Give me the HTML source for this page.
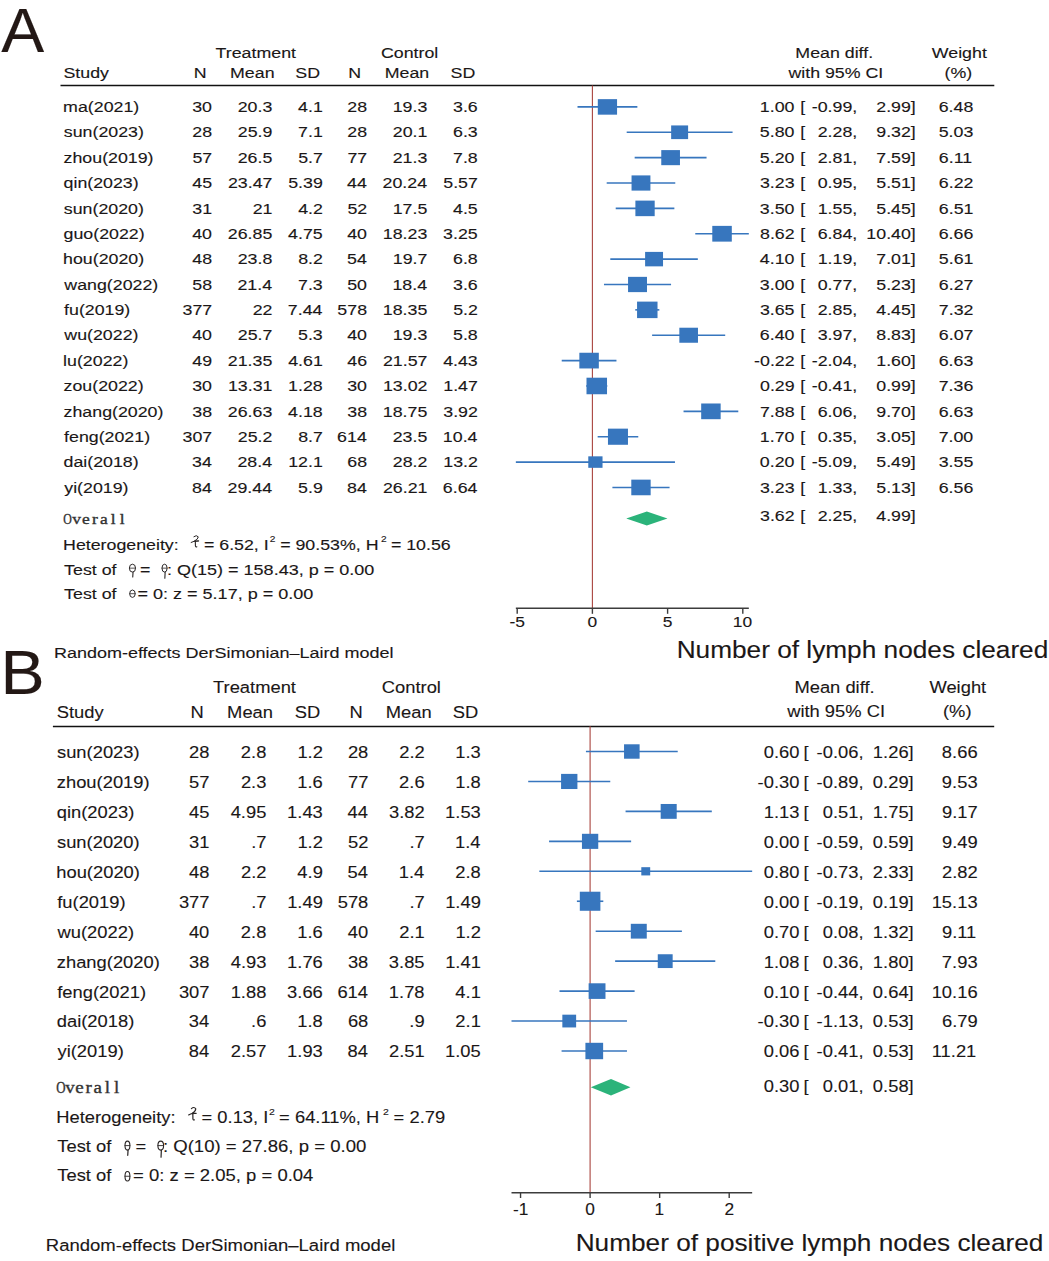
<!DOCTYPE html>
<html><head><meta charset="utf-8"><style>
html,body{margin:0;padding:0;background:#fff;width:1049px;height:1261px;overflow:hidden}
svg{display:block}

</style></head><body>
<svg width="1049" height="1261" viewBox="0 0 1049 1261">
<rect width="1049" height="1261" fill="#fff"/>
<text transform="translate(1.37 52.00) scale(1.0300 1)" font-family='"Liberation Sans", sans-serif' font-size="62.50" fill="#231815" stroke="#231815" stroke-width="0.12">A</text>
<text transform="translate(215.60 57.70) scale(1.2450 1)" font-family='"Liberation Sans", sans-serif' font-size="14.30" fill="#1b1717" stroke="#1b1717" stroke-width="0.12">Treatment</text>
<text transform="translate(381.00 57.70) scale(1.2450 1)" font-family='"Liberation Sans", sans-serif' font-size="14.30" fill="#1b1717" stroke="#1b1717" stroke-width="0.12">Control</text>
<text transform="translate(63.49 77.80) scale(1.2450 1)" font-family='"Liberation Sans", sans-serif' font-size="14.30" fill="#1b1717" stroke="#1b1717" stroke-width="0.12">Study</text>
<text transform="translate(193.74 77.80) scale(1.2450 1)" font-family='"Liberation Sans", sans-serif' font-size="14.30" fill="#1b1717" stroke="#1b1717" stroke-width="0.12">N</text>
<text transform="translate(230.04 77.80) scale(1.2450 1)" font-family='"Liberation Sans", sans-serif' font-size="14.30" fill="#1b1717" stroke="#1b1717" stroke-width="0.12">Mean</text>
<text transform="translate(295.29 77.80) scale(1.2450 1)" font-family='"Liberation Sans", sans-serif' font-size="14.30" fill="#1b1717" stroke="#1b1717" stroke-width="0.12">SD</text>
<text transform="translate(348.14 77.80) scale(1.2450 1)" font-family='"Liberation Sans", sans-serif' font-size="14.30" fill="#1b1717" stroke="#1b1717" stroke-width="0.12">N</text>
<text transform="translate(384.74 77.80) scale(1.2450 1)" font-family='"Liberation Sans", sans-serif' font-size="14.30" fill="#1b1717" stroke="#1b1717" stroke-width="0.12">Mean</text>
<text transform="translate(450.59 77.80) scale(1.2450 1)" font-family='"Liberation Sans", sans-serif' font-size="14.30" fill="#1b1717" stroke="#1b1717" stroke-width="0.12">SD</text>
<text transform="translate(795.34 57.80) scale(1.2450 1)" font-family='"Liberation Sans", sans-serif' font-size="14.30" fill="#1b1717" stroke="#1b1717" stroke-width="0.12">Mean diff.</text>
<text transform="translate(788.43 77.90) scale(1.2450 1)" font-family='"Liberation Sans", sans-serif' font-size="14.30" fill="#1b1717" stroke="#1b1717" stroke-width="0.12">with 95% CI</text>
<text transform="translate(931.82 57.80) scale(1.2450 1)" font-family='"Liberation Sans", sans-serif' font-size="14.30" fill="#1b1717" stroke="#1b1717" stroke-width="0.12">Weight</text>
<text transform="translate(944.60 77.90) scale(1.2450 1)" font-family='"Liberation Sans", sans-serif' font-size="14.30" fill="#1b1717" stroke="#1b1717" stroke-width="0.12">(%)</text>
<line x1="60.50" y1="85.50" x2="994.30" y2="85.50" stroke="#111" stroke-width="1.40"/>
<line x1="592.40" y1="85.50" x2="592.40" y2="608.20" stroke="#a9443f" stroke-width="1.10"/>
<text transform="translate(63.12 112.10) scale(1.2450 1)" font-family='"Liberation Sans", sans-serif' font-size="14.30" fill="#1b1717" stroke="#1b1717" stroke-width="0.12">ma(2021)</text>
<text transform="translate(192.19 112.10) scale(1.2450 1)" font-family='"Liberation Sans", sans-serif' font-size="14.30" fill="#1b1717" stroke="#1b1717" stroke-width="0.12">30</text>
<text transform="translate(237.73 112.10) scale(1.2450 1)" font-family='"Liberation Sans", sans-serif' font-size="14.30" fill="#1b1717" stroke="#1b1717" stroke-width="0.12">20.3</text>
<text transform="translate(298.12 112.10) scale(1.2450 1)" font-family='"Liberation Sans", sans-serif' font-size="14.30" fill="#1b1717" stroke="#1b1717" stroke-width="0.12">4.1</text>
<text transform="translate(347.27 112.10) scale(1.2450 1)" font-family='"Liberation Sans", sans-serif' font-size="14.30" fill="#1b1717" stroke="#1b1717" stroke-width="0.12">28</text>
<text transform="translate(392.73 112.10) scale(1.2450 1)" font-family='"Liberation Sans", sans-serif' font-size="14.30" fill="#1b1717" stroke="#1b1717" stroke-width="0.12">19.3</text>
<text transform="translate(453.03 112.10) scale(1.2450 1)" font-family='"Liberation Sans", sans-serif' font-size="14.30" fill="#1b1717" stroke="#1b1717" stroke-width="0.12">3.6</text>
<text transform="translate(759.84 112.10) scale(1.2450 1)" font-family='"Liberation Sans", sans-serif' font-size="14.30" fill="#1b1717" stroke="#1b1717" stroke-width="0.12">1.00</text>
<text transform="translate(800.23 112.10) scale(1.2450 1)" font-family='"Liberation Sans", sans-serif' font-size="14.30" fill="#1b1717" stroke="#1b1717" stroke-width="0.12">[</text>
<text transform="translate(811.77 112.10) scale(1.2450 1)" font-family='"Liberation Sans", sans-serif' font-size="14.30" fill="#1b1717" stroke="#1b1717" stroke-width="0.12">-0.99,</text>
<text transform="translate(876.27 112.10) scale(1.2450 1)" font-family='"Liberation Sans", sans-serif' font-size="14.30" fill="#1b1717" stroke="#1b1717" stroke-width="0.12">2.99]</text>
<text transform="translate(938.72 112.10) scale(1.2450 1)" font-family='"Liberation Sans", sans-serif' font-size="14.30" fill="#1b1717" stroke="#1b1717" stroke-width="0.12">6.48</text>
<line x1="577.51" y1="106.90" x2="637.37" y2="106.90" stroke="#3776be" stroke-width="1.60"/>
<rect x="597.81" y="99.14" width="19.25" height="15.53" fill="#3776be"/>
<text transform="translate(63.80 137.47) scale(1.2450 1)" font-family='"Liberation Sans", sans-serif' font-size="14.30" fill="#1b1717" stroke="#1b1717" stroke-width="0.12">sun(2023)</text>
<text transform="translate(192.27 137.47) scale(1.2450 1)" font-family='"Liberation Sans", sans-serif' font-size="14.30" fill="#1b1717" stroke="#1b1717" stroke-width="0.12">28</text>
<text transform="translate(237.79 137.47) scale(1.2450 1)" font-family='"Liberation Sans", sans-serif' font-size="14.30" fill="#1b1717" stroke="#1b1717" stroke-width="0.12">25.9</text>
<text transform="translate(298.12 137.47) scale(1.2450 1)" font-family='"Liberation Sans", sans-serif' font-size="14.30" fill="#1b1717" stroke="#1b1717" stroke-width="0.12">7.1</text>
<text transform="translate(347.27 137.47) scale(1.2450 1)" font-family='"Liberation Sans", sans-serif' font-size="14.30" fill="#1b1717" stroke="#1b1717" stroke-width="0.12">28</text>
<text transform="translate(392.82 137.47) scale(1.2450 1)" font-family='"Liberation Sans", sans-serif' font-size="14.30" fill="#1b1717" stroke="#1b1717" stroke-width="0.12">20.1</text>
<text transform="translate(453.03 137.47) scale(1.2450 1)" font-family='"Liberation Sans", sans-serif' font-size="14.30" fill="#1b1717" stroke="#1b1717" stroke-width="0.12">6.3</text>
<text transform="translate(759.84 137.47) scale(1.2450 1)" font-family='"Liberation Sans", sans-serif' font-size="14.30" fill="#1b1717" stroke="#1b1717" stroke-width="0.12">5.80</text>
<text transform="translate(800.23 137.47) scale(1.2450 1)" font-family='"Liberation Sans", sans-serif' font-size="14.30" fill="#1b1717" stroke="#1b1717" stroke-width="0.12">[</text>
<text transform="translate(817.70 137.47) scale(1.2450 1)" font-family='"Liberation Sans", sans-serif' font-size="14.30" fill="#1b1717" stroke="#1b1717" stroke-width="0.12">2.28,</text>
<text transform="translate(876.27 137.47) scale(1.2450 1)" font-family='"Liberation Sans", sans-serif' font-size="14.30" fill="#1b1717" stroke="#1b1717" stroke-width="0.12">9.32]</text>
<text transform="translate(938.73 137.47) scale(1.2450 1)" font-family='"Liberation Sans", sans-serif' font-size="14.30" fill="#1b1717" stroke="#1b1717" stroke-width="0.12">5.03</text>
<line x1="626.69" y1="132.27" x2="732.57" y2="132.27" stroke="#3776be" stroke-width="1.60"/>
<rect x="671.15" y="125.43" width="16.96" height="13.68" fill="#3776be"/>
<text transform="translate(63.58 162.84) scale(1.2450 1)" font-family='"Liberation Sans", sans-serif' font-size="14.30" fill="#1b1717" stroke="#1b1717" stroke-width="0.12">zhou(2019)</text>
<text transform="translate(192.39 162.84) scale(1.2450 1)" font-family='"Liberation Sans", sans-serif' font-size="14.30" fill="#1b1717" stroke="#1b1717" stroke-width="0.12">57</text>
<text transform="translate(237.70 162.84) scale(1.2450 1)" font-family='"Liberation Sans", sans-serif' font-size="14.30" fill="#1b1717" stroke="#1b1717" stroke-width="0.12">26.5</text>
<text transform="translate(298.15 162.84) scale(1.2450 1)" font-family='"Liberation Sans", sans-serif' font-size="14.30" fill="#1b1717" stroke="#1b1717" stroke-width="0.12">5.7</text>
<text transform="translate(347.39 162.84) scale(1.2450 1)" font-family='"Liberation Sans", sans-serif' font-size="14.30" fill="#1b1717" stroke="#1b1717" stroke-width="0.12">77</text>
<text transform="translate(392.73 162.84) scale(1.2450 1)" font-family='"Liberation Sans", sans-serif' font-size="14.30" fill="#1b1717" stroke="#1b1717" stroke-width="0.12">21.3</text>
<text transform="translate(453.02 162.84) scale(1.2450 1)" font-family='"Liberation Sans", sans-serif' font-size="14.30" fill="#1b1717" stroke="#1b1717" stroke-width="0.12">7.8</text>
<text transform="translate(759.84 162.84) scale(1.2450 1)" font-family='"Liberation Sans", sans-serif' font-size="14.30" fill="#1b1717" stroke="#1b1717" stroke-width="0.12">5.20</text>
<text transform="translate(800.23 162.84) scale(1.2450 1)" font-family='"Liberation Sans", sans-serif' font-size="14.30" fill="#1b1717" stroke="#1b1717" stroke-width="0.12">[</text>
<text transform="translate(817.70 162.84) scale(1.2450 1)" font-family='"Liberation Sans", sans-serif' font-size="14.30" fill="#1b1717" stroke="#1b1717" stroke-width="0.12">2.81,</text>
<text transform="translate(876.27 162.84) scale(1.2450 1)" font-family='"Liberation Sans", sans-serif' font-size="14.30" fill="#1b1717" stroke="#1b1717" stroke-width="0.12">7.59]</text>
<text transform="translate(938.82 162.84) scale(1.2450 1)" font-family='"Liberation Sans", sans-serif' font-size="14.30" fill="#1b1717" stroke="#1b1717" stroke-width="0.12">6.11</text>
<line x1="634.66" y1="157.64" x2="706.55" y2="157.64" stroke="#3776be" stroke-width="1.60"/>
<rect x="661.26" y="150.10" width="18.70" height="15.08" fill="#3776be"/>
<text transform="translate(63.55 188.21) scale(1.2450 1)" font-family='"Liberation Sans", sans-serif' font-size="14.30" fill="#1b1717" stroke="#1b1717" stroke-width="0.12">qin(2023)</text>
<text transform="translate(192.24 188.21) scale(1.2450 1)" font-family='"Liberation Sans", sans-serif' font-size="14.30" fill="#1b1717" stroke="#1b1717" stroke-width="0.12">45</text>
<text transform="translate(227.94 188.21) scale(1.2450 1)" font-family='"Liberation Sans", sans-serif' font-size="14.30" fill="#1b1717" stroke="#1b1717" stroke-width="0.12">23.47</text>
<text transform="translate(288.19 188.21) scale(1.2450 1)" font-family='"Liberation Sans", sans-serif' font-size="14.30" fill="#1b1717" stroke="#1b1717" stroke-width="0.12">5.39</text>
<text transform="translate(347.02 188.21) scale(1.2450 1)" font-family='"Liberation Sans", sans-serif' font-size="14.30" fill="#1b1717" stroke="#1b1717" stroke-width="0.12">44</text>
<text transform="translate(382.57 188.21) scale(1.2450 1)" font-family='"Liberation Sans", sans-serif' font-size="14.30" fill="#1b1717" stroke="#1b1717" stroke-width="0.12">20.24</text>
<text transform="translate(443.24 188.21) scale(1.2450 1)" font-family='"Liberation Sans", sans-serif' font-size="14.30" fill="#1b1717" stroke="#1b1717" stroke-width="0.12">5.57</text>
<text transform="translate(759.93 188.21) scale(1.2450 1)" font-family='"Liberation Sans", sans-serif' font-size="14.30" fill="#1b1717" stroke="#1b1717" stroke-width="0.12">3.23</text>
<text transform="translate(800.23 188.21) scale(1.2450 1)" font-family='"Liberation Sans", sans-serif' font-size="14.30" fill="#1b1717" stroke="#1b1717" stroke-width="0.12">[</text>
<text transform="translate(817.70 188.21) scale(1.2450 1)" font-family='"Liberation Sans", sans-serif' font-size="14.30" fill="#1b1717" stroke="#1b1717" stroke-width="0.12">0.95,</text>
<text transform="translate(876.27 188.21) scale(1.2450 1)" font-family='"Liberation Sans", sans-serif' font-size="14.30" fill="#1b1717" stroke="#1b1717" stroke-width="0.12">5.51]</text>
<text transform="translate(938.84 188.21) scale(1.2450 1)" font-family='"Liberation Sans", sans-serif' font-size="14.30" fill="#1b1717" stroke="#1b1717" stroke-width="0.12">6.22</text>
<line x1="606.69" y1="183.01" x2="675.27" y2="183.01" stroke="#3776be" stroke-width="1.60"/>
<rect x="631.55" y="175.40" width="18.86" height="15.21" fill="#3776be"/>
<text transform="translate(63.80 213.58) scale(1.2450 1)" font-family='"Liberation Sans", sans-serif' font-size="14.30" fill="#1b1717" stroke="#1b1717" stroke-width="0.12">sun(2020)</text>
<text transform="translate(192.37 213.58) scale(1.2450 1)" font-family='"Liberation Sans", sans-serif' font-size="14.30" fill="#1b1717" stroke="#1b1717" stroke-width="0.12">31</text>
<text transform="translate(252.67 213.58) scale(1.2450 1)" font-family='"Liberation Sans", sans-serif' font-size="14.30" fill="#1b1717" stroke="#1b1717" stroke-width="0.12">21</text>
<text transform="translate(298.15 213.58) scale(1.2450 1)" font-family='"Liberation Sans", sans-serif' font-size="14.30" fill="#1b1717" stroke="#1b1717" stroke-width="0.12">4.2</text>
<text transform="translate(347.39 213.58) scale(1.2450 1)" font-family='"Liberation Sans", sans-serif' font-size="14.30" fill="#1b1717" stroke="#1b1717" stroke-width="0.12">52</text>
<text transform="translate(392.70 213.58) scale(1.2450 1)" font-family='"Liberation Sans", sans-serif' font-size="14.30" fill="#1b1717" stroke="#1b1717" stroke-width="0.12">17.5</text>
<text transform="translate(453.00 213.58) scale(1.2450 1)" font-family='"Liberation Sans", sans-serif' font-size="14.30" fill="#1b1717" stroke="#1b1717" stroke-width="0.12">4.5</text>
<text transform="translate(759.84 213.58) scale(1.2450 1)" font-family='"Liberation Sans", sans-serif' font-size="14.30" fill="#1b1717" stroke="#1b1717" stroke-width="0.12">3.50</text>
<text transform="translate(800.23 213.58) scale(1.2450 1)" font-family='"Liberation Sans", sans-serif' font-size="14.30" fill="#1b1717" stroke="#1b1717" stroke-width="0.12">[</text>
<text transform="translate(817.70 213.58) scale(1.2450 1)" font-family='"Liberation Sans", sans-serif' font-size="14.30" fill="#1b1717" stroke="#1b1717" stroke-width="0.12">1.55,</text>
<text transform="translate(876.27 213.58) scale(1.2450 1)" font-family='"Liberation Sans", sans-serif' font-size="14.30" fill="#1b1717" stroke="#1b1717" stroke-width="0.12">5.45]</text>
<text transform="translate(938.82 213.58) scale(1.2450 1)" font-family='"Liberation Sans", sans-serif' font-size="14.30" fill="#1b1717" stroke="#1b1717" stroke-width="0.12">6.51</text>
<line x1="615.71" y1="208.38" x2="674.37" y2="208.38" stroke="#3776be" stroke-width="1.60"/>
<rect x="635.39" y="200.60" width="19.30" height="15.56" fill="#3776be"/>
<text transform="translate(63.55 238.95) scale(1.2450 1)" font-family='"Liberation Sans", sans-serif' font-size="14.30" fill="#1b1717" stroke="#1b1717" stroke-width="0.12">guo(2022)</text>
<text transform="translate(192.19 238.95) scale(1.2450 1)" font-family='"Liberation Sans", sans-serif' font-size="14.30" fill="#1b1717" stroke="#1b1717" stroke-width="0.12">40</text>
<text transform="translate(227.80 238.95) scale(1.2450 1)" font-family='"Liberation Sans", sans-serif' font-size="14.30" fill="#1b1717" stroke="#1b1717" stroke-width="0.12">26.85</text>
<text transform="translate(288.10 238.95) scale(1.2450 1)" font-family='"Liberation Sans", sans-serif' font-size="14.30" fill="#1b1717" stroke="#1b1717" stroke-width="0.12">4.75</text>
<text transform="translate(347.19 238.95) scale(1.2450 1)" font-family='"Liberation Sans", sans-serif' font-size="14.30" fill="#1b1717" stroke="#1b1717" stroke-width="0.12">40</text>
<text transform="translate(382.83 238.95) scale(1.2450 1)" font-family='"Liberation Sans", sans-serif' font-size="14.30" fill="#1b1717" stroke="#1b1717" stroke-width="0.12">18.23</text>
<text transform="translate(443.10 238.95) scale(1.2450 1)" font-family='"Liberation Sans", sans-serif' font-size="14.30" fill="#1b1717" stroke="#1b1717" stroke-width="0.12">3.25</text>
<text transform="translate(760.04 238.95) scale(1.2450 1)" font-family='"Liberation Sans", sans-serif' font-size="14.30" fill="#1b1717" stroke="#1b1717" stroke-width="0.12">8.62</text>
<text transform="translate(800.23 238.95) scale(1.2450 1)" font-family='"Liberation Sans", sans-serif' font-size="14.30" fill="#1b1717" stroke="#1b1717" stroke-width="0.12">[</text>
<text transform="translate(817.70 238.95) scale(1.2450 1)" font-family='"Liberation Sans", sans-serif' font-size="14.30" fill="#1b1717" stroke="#1b1717" stroke-width="0.12">6.84,</text>
<text transform="translate(866.37 238.95) scale(1.2450 1)" font-family='"Liberation Sans", sans-serif' font-size="14.30" fill="#1b1717" stroke="#1b1717" stroke-width="0.12">10.40]</text>
<text transform="translate(938.73 238.95) scale(1.2450 1)" font-family='"Liberation Sans", sans-serif' font-size="14.30" fill="#1b1717" stroke="#1b1717" stroke-width="0.12">6.66</text>
<line x1="695.27" y1="233.75" x2="748.82" y2="233.75" stroke="#3776be" stroke-width="1.60"/>
<rect x="712.28" y="225.88" width="19.52" height="15.74" fill="#3776be"/>
<text transform="translate(63.07 264.32) scale(1.2450 1)" font-family='"Liberation Sans", sans-serif' font-size="14.30" fill="#1b1717" stroke="#1b1717" stroke-width="0.12">hou(2020)</text>
<text transform="translate(192.27 264.32) scale(1.2450 1)" font-family='"Liberation Sans", sans-serif' font-size="14.30" fill="#1b1717" stroke="#1b1717" stroke-width="0.12">48</text>
<text transform="translate(237.72 264.32) scale(1.2450 1)" font-family='"Liberation Sans", sans-serif' font-size="14.30" fill="#1b1717" stroke="#1b1717" stroke-width="0.12">23.8</text>
<text transform="translate(298.15 264.32) scale(1.2450 1)" font-family='"Liberation Sans", sans-serif' font-size="14.30" fill="#1b1717" stroke="#1b1717" stroke-width="0.12">8.2</text>
<text transform="translate(347.02 264.32) scale(1.2450 1)" font-family='"Liberation Sans", sans-serif' font-size="14.30" fill="#1b1717" stroke="#1b1717" stroke-width="0.12">54</text>
<text transform="translate(392.84 264.32) scale(1.2450 1)" font-family='"Liberation Sans", sans-serif' font-size="14.30" fill="#1b1717" stroke="#1b1717" stroke-width="0.12">19.7</text>
<text transform="translate(453.02 264.32) scale(1.2450 1)" font-family='"Liberation Sans", sans-serif' font-size="14.30" fill="#1b1717" stroke="#1b1717" stroke-width="0.12">6.8</text>
<text transform="translate(759.84 264.32) scale(1.2450 1)" font-family='"Liberation Sans", sans-serif' font-size="14.30" fill="#1b1717" stroke="#1b1717" stroke-width="0.12">4.10</text>
<text transform="translate(800.23 264.32) scale(1.2450 1)" font-family='"Liberation Sans", sans-serif' font-size="14.30" fill="#1b1717" stroke="#1b1717" stroke-width="0.12">[</text>
<text transform="translate(817.70 264.32) scale(1.2450 1)" font-family='"Liberation Sans", sans-serif' font-size="14.30" fill="#1b1717" stroke="#1b1717" stroke-width="0.12">1.19,</text>
<text transform="translate(876.27 264.32) scale(1.2450 1)" font-family='"Liberation Sans", sans-serif' font-size="14.30" fill="#1b1717" stroke="#1b1717" stroke-width="0.12">7.01]</text>
<text transform="translate(938.82 264.32) scale(1.2450 1)" font-family='"Liberation Sans", sans-serif' font-size="14.30" fill="#1b1717" stroke="#1b1717" stroke-width="0.12">5.61</text>
<line x1="610.30" y1="259.12" x2="697.83" y2="259.12" stroke="#3776be" stroke-width="1.60"/>
<rect x="645.11" y="251.90" width="17.92" height="14.45" fill="#3776be"/>
<text transform="translate(64.33 289.69) scale(1.2450 1)" font-family='"Liberation Sans", sans-serif' font-size="14.30" fill="#1b1717" stroke="#1b1717" stroke-width="0.12">wang(2022)</text>
<text transform="translate(192.27 289.69) scale(1.2450 1)" font-family='"Liberation Sans", sans-serif' font-size="14.30" fill="#1b1717" stroke="#1b1717" stroke-width="0.12">58</text>
<text transform="translate(237.47 289.69) scale(1.2450 1)" font-family='"Liberation Sans", sans-serif' font-size="14.30" fill="#1b1717" stroke="#1b1717" stroke-width="0.12">21.4</text>
<text transform="translate(298.03 289.69) scale(1.2450 1)" font-family='"Liberation Sans", sans-serif' font-size="14.30" fill="#1b1717" stroke="#1b1717" stroke-width="0.12">7.3</text>
<text transform="translate(347.19 289.69) scale(1.2450 1)" font-family='"Liberation Sans", sans-serif' font-size="14.30" fill="#1b1717" stroke="#1b1717" stroke-width="0.12">50</text>
<text transform="translate(392.47 289.69) scale(1.2450 1)" font-family='"Liberation Sans", sans-serif' font-size="14.30" fill="#1b1717" stroke="#1b1717" stroke-width="0.12">18.4</text>
<text transform="translate(453.03 289.69) scale(1.2450 1)" font-family='"Liberation Sans", sans-serif' font-size="14.30" fill="#1b1717" stroke="#1b1717" stroke-width="0.12">3.6</text>
<text transform="translate(759.84 289.69) scale(1.2450 1)" font-family='"Liberation Sans", sans-serif' font-size="14.30" fill="#1b1717" stroke="#1b1717" stroke-width="0.12">3.00</text>
<text transform="translate(800.23 289.69) scale(1.2450 1)" font-family='"Liberation Sans", sans-serif' font-size="14.30" fill="#1b1717" stroke="#1b1717" stroke-width="0.12">[</text>
<text transform="translate(817.70 289.69) scale(1.2450 1)" font-family='"Liberation Sans", sans-serif' font-size="14.30" fill="#1b1717" stroke="#1b1717" stroke-width="0.12">0.77,</text>
<text transform="translate(876.27 289.69) scale(1.2450 1)" font-family='"Liberation Sans", sans-serif' font-size="14.30" fill="#1b1717" stroke="#1b1717" stroke-width="0.12">5.23]</text>
<text transform="translate(938.84 289.69) scale(1.2450 1)" font-family='"Liberation Sans", sans-serif' font-size="14.30" fill="#1b1717" stroke="#1b1717" stroke-width="0.12">6.27</text>
<line x1="603.98" y1="284.49" x2="671.06" y2="284.49" stroke="#3776be" stroke-width="1.60"/>
<rect x="628.05" y="276.85" width="18.94" height="15.27" fill="#3776be"/>
<text transform="translate(64.05 315.06) scale(1.2450 1)" font-family='"Liberation Sans", sans-serif' font-size="14.30" fill="#1b1717" stroke="#1b1717" stroke-width="0.12">fu(2019)</text>
<text transform="translate(182.49 315.06) scale(1.2450 1)" font-family='"Liberation Sans", sans-serif' font-size="14.30" fill="#1b1717" stroke="#1b1717" stroke-width="0.12">377</text>
<text transform="translate(252.69 315.06) scale(1.2450 1)" font-family='"Liberation Sans", sans-serif' font-size="14.30" fill="#1b1717" stroke="#1b1717" stroke-width="0.12">22</text>
<text transform="translate(287.87 315.06) scale(1.2450 1)" font-family='"Liberation Sans", sans-serif' font-size="14.30" fill="#1b1717" stroke="#1b1717" stroke-width="0.12">7.44</text>
<text transform="translate(337.37 315.06) scale(1.2450 1)" font-family='"Liberation Sans", sans-serif' font-size="14.30" fill="#1b1717" stroke="#1b1717" stroke-width="0.12">578</text>
<text transform="translate(382.80 315.06) scale(1.2450 1)" font-family='"Liberation Sans", sans-serif' font-size="14.30" fill="#1b1717" stroke="#1b1717" stroke-width="0.12">18.35</text>
<text transform="translate(453.15 315.06) scale(1.2450 1)" font-family='"Liberation Sans", sans-serif' font-size="14.30" fill="#1b1717" stroke="#1b1717" stroke-width="0.12">5.2</text>
<text transform="translate(759.90 315.06) scale(1.2450 1)" font-family='"Liberation Sans", sans-serif' font-size="14.30" fill="#1b1717" stroke="#1b1717" stroke-width="0.12">3.65</text>
<text transform="translate(800.23 315.06) scale(1.2450 1)" font-family='"Liberation Sans", sans-serif' font-size="14.30" fill="#1b1717" stroke="#1b1717" stroke-width="0.12">[</text>
<text transform="translate(817.70 315.06) scale(1.2450 1)" font-family='"Liberation Sans", sans-serif' font-size="14.30" fill="#1b1717" stroke="#1b1717" stroke-width="0.12">2.85,</text>
<text transform="translate(876.27 315.06) scale(1.2450 1)" font-family='"Liberation Sans", sans-serif' font-size="14.30" fill="#1b1717" stroke="#1b1717" stroke-width="0.12">4.45]</text>
<text transform="translate(938.84 315.06) scale(1.2450 1)" font-family='"Liberation Sans", sans-serif' font-size="14.30" fill="#1b1717" stroke="#1b1717" stroke-width="0.12">7.32</text>
<line x1="635.26" y1="309.86" x2="659.33" y2="309.86" stroke="#3776be" stroke-width="1.60"/>
<rect x="637.06" y="301.61" width="20.46" height="16.50" fill="#3776be"/>
<text transform="translate(64.33 340.43) scale(1.2450 1)" font-family='"Liberation Sans", sans-serif' font-size="14.30" fill="#1b1717" stroke="#1b1717" stroke-width="0.12">wu(2022)</text>
<text transform="translate(192.19 340.43) scale(1.2450 1)" font-family='"Liberation Sans", sans-serif' font-size="14.30" fill="#1b1717" stroke="#1b1717" stroke-width="0.12">40</text>
<text transform="translate(237.84 340.43) scale(1.2450 1)" font-family='"Liberation Sans", sans-serif' font-size="14.30" fill="#1b1717" stroke="#1b1717" stroke-width="0.12">25.7</text>
<text transform="translate(298.03 340.43) scale(1.2450 1)" font-family='"Liberation Sans", sans-serif' font-size="14.30" fill="#1b1717" stroke="#1b1717" stroke-width="0.12">5.3</text>
<text transform="translate(347.19 340.43) scale(1.2450 1)" font-family='"Liberation Sans", sans-serif' font-size="14.30" fill="#1b1717" stroke="#1b1717" stroke-width="0.12">40</text>
<text transform="translate(392.73 340.43) scale(1.2450 1)" font-family='"Liberation Sans", sans-serif' font-size="14.30" fill="#1b1717" stroke="#1b1717" stroke-width="0.12">19.3</text>
<text transform="translate(453.02 340.43) scale(1.2450 1)" font-family='"Liberation Sans", sans-serif' font-size="14.30" fill="#1b1717" stroke="#1b1717" stroke-width="0.12">5.8</text>
<text transform="translate(759.84 340.43) scale(1.2450 1)" font-family='"Liberation Sans", sans-serif' font-size="14.30" fill="#1b1717" stroke="#1b1717" stroke-width="0.12">6.40</text>
<text transform="translate(800.23 340.43) scale(1.2450 1)" font-family='"Liberation Sans", sans-serif' font-size="14.30" fill="#1b1717" stroke="#1b1717" stroke-width="0.12">[</text>
<text transform="translate(817.70 340.43) scale(1.2450 1)" font-family='"Liberation Sans", sans-serif' font-size="14.30" fill="#1b1717" stroke="#1b1717" stroke-width="0.12">3.97,</text>
<text transform="translate(876.27 340.43) scale(1.2450 1)" font-family='"Liberation Sans", sans-serif' font-size="14.30" fill="#1b1717" stroke="#1b1717" stroke-width="0.12">8.83]</text>
<text transform="translate(938.84 340.43) scale(1.2450 1)" font-family='"Liberation Sans", sans-serif' font-size="14.30" fill="#1b1717" stroke="#1b1717" stroke-width="0.12">6.07</text>
<line x1="652.11" y1="335.23" x2="725.20" y2="335.23" stroke="#3776be" stroke-width="1.60"/>
<rect x="679.34" y="327.72" width="18.64" height="15.03" fill="#3776be"/>
<text transform="translate(63.10 365.80) scale(1.2450 1)" font-family='"Liberation Sans", sans-serif' font-size="14.30" fill="#1b1717" stroke="#1b1717" stroke-width="0.12">lu(2022)</text>
<text transform="translate(192.34 365.80) scale(1.2450 1)" font-family='"Liberation Sans", sans-serif' font-size="14.30" fill="#1b1717" stroke="#1b1717" stroke-width="0.12">49</text>
<text transform="translate(227.80 365.80) scale(1.2450 1)" font-family='"Liberation Sans", sans-serif' font-size="14.30" fill="#1b1717" stroke="#1b1717" stroke-width="0.12">21.35</text>
<text transform="translate(288.22 365.80) scale(1.2450 1)" font-family='"Liberation Sans", sans-serif' font-size="14.30" fill="#1b1717" stroke="#1b1717" stroke-width="0.12">4.61</text>
<text transform="translate(347.28 365.80) scale(1.2450 1)" font-family='"Liberation Sans", sans-serif' font-size="14.30" fill="#1b1717" stroke="#1b1717" stroke-width="0.12">46</text>
<text transform="translate(382.94 365.80) scale(1.2450 1)" font-family='"Liberation Sans", sans-serif' font-size="14.30" fill="#1b1717" stroke="#1b1717" stroke-width="0.12">21.57</text>
<text transform="translate(443.13 365.80) scale(1.2450 1)" font-family='"Liberation Sans", sans-serif' font-size="14.30" fill="#1b1717" stroke="#1b1717" stroke-width="0.12">4.43</text>
<text transform="translate(754.12 365.80) scale(1.2450 1)" font-family='"Liberation Sans", sans-serif' font-size="14.30" fill="#1b1717" stroke="#1b1717" stroke-width="0.12">-0.22</text>
<text transform="translate(800.23 365.80) scale(1.2450 1)" font-family='"Liberation Sans", sans-serif' font-size="14.30" fill="#1b1717" stroke="#1b1717" stroke-width="0.12">[</text>
<text transform="translate(811.77 365.80) scale(1.2450 1)" font-family='"Liberation Sans", sans-serif' font-size="14.30" fill="#1b1717" stroke="#1b1717" stroke-width="0.12">-2.04,</text>
<text transform="translate(876.27 365.80) scale(1.2450 1)" font-family='"Liberation Sans", sans-serif' font-size="14.30" fill="#1b1717" stroke="#1b1717" stroke-width="0.12">1.60]</text>
<text transform="translate(938.73 365.80) scale(1.2450 1)" font-family='"Liberation Sans", sans-serif' font-size="14.30" fill="#1b1717" stroke="#1b1717" stroke-width="0.12">6.63</text>
<line x1="561.72" y1="360.60" x2="616.46" y2="360.60" stroke="#3776be" stroke-width="1.60"/>
<rect x="579.35" y="352.75" width="19.48" height="15.71" fill="#3776be"/>
<text transform="translate(63.58 391.17) scale(1.2450 1)" font-family='"Liberation Sans", sans-serif' font-size="14.30" fill="#1b1717" stroke="#1b1717" stroke-width="0.12">zou(2022)</text>
<text transform="translate(192.19 391.17) scale(1.2450 1)" font-family='"Liberation Sans", sans-serif' font-size="14.30" fill="#1b1717" stroke="#1b1717" stroke-width="0.12">30</text>
<text transform="translate(227.92 391.17) scale(1.2450 1)" font-family='"Liberation Sans", sans-serif' font-size="14.30" fill="#1b1717" stroke="#1b1717" stroke-width="0.12">13.31</text>
<text transform="translate(288.12 391.17) scale(1.2450 1)" font-family='"Liberation Sans", sans-serif' font-size="14.30" fill="#1b1717" stroke="#1b1717" stroke-width="0.12">1.28</text>
<text transform="translate(347.19 391.17) scale(1.2450 1)" font-family='"Liberation Sans", sans-serif' font-size="14.30" fill="#1b1717" stroke="#1b1717" stroke-width="0.12">30</text>
<text transform="translate(382.94 391.17) scale(1.2450 1)" font-family='"Liberation Sans", sans-serif' font-size="14.30" fill="#1b1717" stroke="#1b1717" stroke-width="0.12">13.02</text>
<text transform="translate(443.24 391.17) scale(1.2450 1)" font-family='"Liberation Sans", sans-serif' font-size="14.30" fill="#1b1717" stroke="#1b1717" stroke-width="0.12">1.47</text>
<text transform="translate(759.99 391.17) scale(1.2450 1)" font-family='"Liberation Sans", sans-serif' font-size="14.30" fill="#1b1717" stroke="#1b1717" stroke-width="0.12">0.29</text>
<text transform="translate(800.23 391.17) scale(1.2450 1)" font-family='"Liberation Sans", sans-serif' font-size="14.30" fill="#1b1717" stroke="#1b1717" stroke-width="0.12">[</text>
<text transform="translate(811.77 391.17) scale(1.2450 1)" font-family='"Liberation Sans", sans-serif' font-size="14.30" fill="#1b1717" stroke="#1b1717" stroke-width="0.12">-0.41,</text>
<text transform="translate(876.27 391.17) scale(1.2450 1)" font-family='"Liberation Sans", sans-serif' font-size="14.30" fill="#1b1717" stroke="#1b1717" stroke-width="0.12">0.99]</text>
<text transform="translate(938.73 391.17) scale(1.2450 1)" font-family='"Liberation Sans", sans-serif' font-size="14.30" fill="#1b1717" stroke="#1b1717" stroke-width="0.12">7.36</text>
<line x1="586.23" y1="385.97" x2="607.29" y2="385.97" stroke="#3776be" stroke-width="1.60"/>
<rect x="586.50" y="377.70" width="20.52" height="16.55" fill="#3776be"/>
<text transform="translate(63.58 416.54) scale(1.2450 1)" font-family='"Liberation Sans", sans-serif' font-size="14.30" fill="#1b1717" stroke="#1b1717" stroke-width="0.12">zhang(2020)</text>
<text transform="translate(192.27 416.54) scale(1.2450 1)" font-family='"Liberation Sans", sans-serif' font-size="14.30" fill="#1b1717" stroke="#1b1717" stroke-width="0.12">38</text>
<text transform="translate(227.83 416.54) scale(1.2450 1)" font-family='"Liberation Sans", sans-serif' font-size="14.30" fill="#1b1717" stroke="#1b1717" stroke-width="0.12">26.63</text>
<text transform="translate(288.12 416.54) scale(1.2450 1)" font-family='"Liberation Sans", sans-serif' font-size="14.30" fill="#1b1717" stroke="#1b1717" stroke-width="0.12">4.18</text>
<text transform="translate(347.27 416.54) scale(1.2450 1)" font-family='"Liberation Sans", sans-serif' font-size="14.30" fill="#1b1717" stroke="#1b1717" stroke-width="0.12">38</text>
<text transform="translate(382.80 416.54) scale(1.2450 1)" font-family='"Liberation Sans", sans-serif' font-size="14.30" fill="#1b1717" stroke="#1b1717" stroke-width="0.12">18.75</text>
<text transform="translate(443.24 416.54) scale(1.2450 1)" font-family='"Liberation Sans", sans-serif' font-size="14.30" fill="#1b1717" stroke="#1b1717" stroke-width="0.12">3.92</text>
<text transform="translate(759.92 416.54) scale(1.2450 1)" font-family='"Liberation Sans", sans-serif' font-size="14.30" fill="#1b1717" stroke="#1b1717" stroke-width="0.12">7.88</text>
<text transform="translate(800.23 416.54) scale(1.2450 1)" font-family='"Liberation Sans", sans-serif' font-size="14.30" fill="#1b1717" stroke="#1b1717" stroke-width="0.12">[</text>
<text transform="translate(817.70 416.54) scale(1.2450 1)" font-family='"Liberation Sans", sans-serif' font-size="14.30" fill="#1b1717" stroke="#1b1717" stroke-width="0.12">6.06,</text>
<text transform="translate(876.27 416.54) scale(1.2450 1)" font-family='"Liberation Sans", sans-serif' font-size="14.30" fill="#1b1717" stroke="#1b1717" stroke-width="0.12">9.70]</text>
<text transform="translate(938.73 416.54) scale(1.2450 1)" font-family='"Liberation Sans", sans-serif' font-size="14.30" fill="#1b1717" stroke="#1b1717" stroke-width="0.12">6.63</text>
<line x1="683.54" y1="411.34" x2="738.29" y2="411.34" stroke="#3776be" stroke-width="1.60"/>
<rect x="701.18" y="403.49" width="19.48" height="15.71" fill="#3776be"/>
<text transform="translate(64.05 441.91) scale(1.2450 1)" font-family='"Liberation Sans", sans-serif' font-size="14.30" fill="#1b1717" stroke="#1b1717" stroke-width="0.12">feng(2021)</text>
<text transform="translate(182.49 441.91) scale(1.2450 1)" font-family='"Liberation Sans", sans-serif' font-size="14.30" fill="#1b1717" stroke="#1b1717" stroke-width="0.12">307</text>
<text transform="translate(237.84 441.91) scale(1.2450 1)" font-family='"Liberation Sans", sans-serif' font-size="14.30" fill="#1b1717" stroke="#1b1717" stroke-width="0.12">25.2</text>
<text transform="translate(298.15 441.91) scale(1.2450 1)" font-family='"Liberation Sans", sans-serif' font-size="14.30" fill="#1b1717" stroke="#1b1717" stroke-width="0.12">8.7</text>
<text transform="translate(337.12 441.91) scale(1.2450 1)" font-family='"Liberation Sans", sans-serif' font-size="14.30" fill="#1b1717" stroke="#1b1717" stroke-width="0.12">614</text>
<text transform="translate(392.70 441.91) scale(1.2450 1)" font-family='"Liberation Sans", sans-serif' font-size="14.30" fill="#1b1717" stroke="#1b1717" stroke-width="0.12">23.5</text>
<text transform="translate(442.87 441.91) scale(1.2450 1)" font-family='"Liberation Sans", sans-serif' font-size="14.30" fill="#1b1717" stroke="#1b1717" stroke-width="0.12">10.4</text>
<text transform="translate(759.84 441.91) scale(1.2450 1)" font-family='"Liberation Sans", sans-serif' font-size="14.30" fill="#1b1717" stroke="#1b1717" stroke-width="0.12">1.70</text>
<text transform="translate(800.23 441.91) scale(1.2450 1)" font-family='"Liberation Sans", sans-serif' font-size="14.30" fill="#1b1717" stroke="#1b1717" stroke-width="0.12">[</text>
<text transform="translate(817.70 441.91) scale(1.2450 1)" font-family='"Liberation Sans", sans-serif' font-size="14.30" fill="#1b1717" stroke="#1b1717" stroke-width="0.12">0.35,</text>
<text transform="translate(876.27 441.91) scale(1.2450 1)" font-family='"Liberation Sans", sans-serif' font-size="14.30" fill="#1b1717" stroke="#1b1717" stroke-width="0.12">3.05]</text>
<text transform="translate(938.64 441.91) scale(1.2450 1)" font-family='"Liberation Sans", sans-serif' font-size="14.30" fill="#1b1717" stroke="#1b1717" stroke-width="0.12">7.00</text>
<line x1="597.66" y1="436.71" x2="638.27" y2="436.71" stroke="#3776be" stroke-width="1.60"/>
<rect x="607.96" y="428.64" width="20.01" height="16.14" fill="#3776be"/>
<text transform="translate(63.55 467.28) scale(1.2450 1)" font-family='"Liberation Sans", sans-serif' font-size="14.30" fill="#1b1717" stroke="#1b1717" stroke-width="0.12">dai(2018)</text>
<text transform="translate(192.02 467.28) scale(1.2450 1)" font-family='"Liberation Sans", sans-serif' font-size="14.30" fill="#1b1717" stroke="#1b1717" stroke-width="0.12">34</text>
<text transform="translate(237.47 467.28) scale(1.2450 1)" font-family='"Liberation Sans", sans-serif' font-size="14.30" fill="#1b1717" stroke="#1b1717" stroke-width="0.12">28.4</text>
<text transform="translate(288.22 467.28) scale(1.2450 1)" font-family='"Liberation Sans", sans-serif' font-size="14.30" fill="#1b1717" stroke="#1b1717" stroke-width="0.12">12.1</text>
<text transform="translate(347.27 467.28) scale(1.2450 1)" font-family='"Liberation Sans", sans-serif' font-size="14.30" fill="#1b1717" stroke="#1b1717" stroke-width="0.12">68</text>
<text transform="translate(392.84 467.28) scale(1.2450 1)" font-family='"Liberation Sans", sans-serif' font-size="14.30" fill="#1b1717" stroke="#1b1717" stroke-width="0.12">28.2</text>
<text transform="translate(443.24 467.28) scale(1.2450 1)" font-family='"Liberation Sans", sans-serif' font-size="14.30" fill="#1b1717" stroke="#1b1717" stroke-width="0.12">13.2</text>
<text transform="translate(759.84 467.28) scale(1.2450 1)" font-family='"Liberation Sans", sans-serif' font-size="14.30" fill="#1b1717" stroke="#1b1717" stroke-width="0.12">0.20</text>
<text transform="translate(800.23 467.28) scale(1.2450 1)" font-family='"Liberation Sans", sans-serif' font-size="14.30" fill="#1b1717" stroke="#1b1717" stroke-width="0.12">[</text>
<text transform="translate(811.77 467.28) scale(1.2450 1)" font-family='"Liberation Sans", sans-serif' font-size="14.30" fill="#1b1717" stroke="#1b1717" stroke-width="0.12">-5.09,</text>
<text transform="translate(876.27 467.28) scale(1.2450 1)" font-family='"Liberation Sans", sans-serif' font-size="14.30" fill="#1b1717" stroke="#1b1717" stroke-width="0.12">5.49]</text>
<text transform="translate(938.70 467.28) scale(1.2450 1)" font-family='"Liberation Sans", sans-serif' font-size="14.30" fill="#1b1717" stroke="#1b1717" stroke-width="0.12">3.55</text>
<line x1="515.85" y1="462.08" x2="674.97" y2="462.08" stroke="#3776be" stroke-width="1.60"/>
<rect x="588.28" y="456.33" width="14.25" height="11.49" fill="#3776be"/>
<text transform="translate(64.26 492.65) scale(1.2450 1)" font-family='"Liberation Sans", sans-serif' font-size="14.30" fill="#1b1717" stroke="#1b1717" stroke-width="0.12">yi(2019)</text>
<text transform="translate(192.02 492.65) scale(1.2450 1)" font-family='"Liberation Sans", sans-serif' font-size="14.30" fill="#1b1717" stroke="#1b1717" stroke-width="0.12">84</text>
<text transform="translate(227.57 492.65) scale(1.2450 1)" font-family='"Liberation Sans", sans-serif' font-size="14.30" fill="#1b1717" stroke="#1b1717" stroke-width="0.12">29.44</text>
<text transform="translate(298.09 492.65) scale(1.2450 1)" font-family='"Liberation Sans", sans-serif' font-size="14.30" fill="#1b1717" stroke="#1b1717" stroke-width="0.12">5.9</text>
<text transform="translate(347.02 492.65) scale(1.2450 1)" font-family='"Liberation Sans", sans-serif' font-size="14.30" fill="#1b1717" stroke="#1b1717" stroke-width="0.12">84</text>
<text transform="translate(382.92 492.65) scale(1.2450 1)" font-family='"Liberation Sans", sans-serif' font-size="14.30" fill="#1b1717" stroke="#1b1717" stroke-width="0.12">26.21</text>
<text transform="translate(442.87 492.65) scale(1.2450 1)" font-family='"Liberation Sans", sans-serif' font-size="14.30" fill="#1b1717" stroke="#1b1717" stroke-width="0.12">6.64</text>
<text transform="translate(759.93 492.65) scale(1.2450 1)" font-family='"Liberation Sans", sans-serif' font-size="14.30" fill="#1b1717" stroke="#1b1717" stroke-width="0.12">3.23</text>
<text transform="translate(800.23 492.65) scale(1.2450 1)" font-family='"Liberation Sans", sans-serif' font-size="14.30" fill="#1b1717" stroke="#1b1717" stroke-width="0.12">[</text>
<text transform="translate(817.70 492.65) scale(1.2450 1)" font-family='"Liberation Sans", sans-serif' font-size="14.30" fill="#1b1717" stroke="#1b1717" stroke-width="0.12">1.33,</text>
<text transform="translate(876.27 492.65) scale(1.2450 1)" font-family='"Liberation Sans", sans-serif' font-size="14.30" fill="#1b1717" stroke="#1b1717" stroke-width="0.12">5.13]</text>
<text transform="translate(938.73 492.65) scale(1.2450 1)" font-family='"Liberation Sans", sans-serif' font-size="14.30" fill="#1b1717" stroke="#1b1717" stroke-width="0.12">6.56</text>
<line x1="612.40" y1="487.45" x2="669.56" y2="487.45" stroke="#3776be" stroke-width="1.60"/>
<rect x="631.29" y="479.64" width="19.37" height="15.62" fill="#3776be"/>
<text transform="translate(63.32 523.50) scale(0.7800 1)" font-family='"Liberation Serif", serif' font-size="15.20" fill="#333" stroke="#333" stroke-width="0.35">O</text>
<text transform="translate(72.33 523.50) scale(1.1500 1)" font-family='"Liberation Serif", serif' font-size="15.20" fill="#333" stroke="#333" stroke-width="0.35">v</text>
<text transform="translate(81.88 523.50) scale(1.1500 1)" font-family='"Liberation Serif", serif' font-size="15.20" fill="#333" stroke="#333" stroke-width="0.35">e</text>
<text transform="translate(91.89 523.50) scale(1.1500 1)" font-family='"Liberation Serif", serif' font-size="15.20" fill="#333" stroke="#333" stroke-width="0.35">r</text>
<text transform="translate(99.93 523.50) scale(1.1500 1)" font-family='"Liberation Serif", serif' font-size="15.20" fill="#333" stroke="#333" stroke-width="0.35">a</text>
<text transform="translate(110.67 523.50) scale(1.1500 1)" font-family='"Liberation Serif", serif' font-size="15.20" fill="#333" stroke="#333" stroke-width="0.35">l</text>
<text transform="translate(119.77 523.50) scale(1.1500 1)" font-family='"Liberation Serif", serif' font-size="15.20" fill="#333" stroke="#333" stroke-width="0.35">l</text>
<text transform="translate(760.04 521.00) scale(1.2450 1)" font-family='"Liberation Sans", sans-serif' font-size="14.30" fill="#1b1717" stroke="#1b1717" stroke-width="0.12">3.62</text>
<text transform="translate(800.23 521.00) scale(1.2450 1)" font-family='"Liberation Sans", sans-serif' font-size="14.30" fill="#1b1717" stroke="#1b1717" stroke-width="0.12">[</text>
<text transform="translate(817.70 521.00) scale(1.2450 1)" font-family='"Liberation Sans", sans-serif' font-size="14.30" fill="#1b1717" stroke="#1b1717" stroke-width="0.12">2.25,</text>
<text transform="translate(876.27 521.00) scale(1.2450 1)" font-family='"Liberation Sans", sans-serif' font-size="14.30" fill="#1b1717" stroke="#1b1717" stroke-width="0.12">4.99]</text>
<polygon points="626.24,518.60 646.84,511.60 667.45,518.60 646.84,525.60" fill="#2bb37a"/>
<text transform="translate(63.04 549.80) scale(1.2450 1)" font-family='"Liberation Sans", sans-serif' font-size="14.30" fill="#1b1717" stroke="#1b1717" stroke-width="0.12">Heterogeneity:</text>
<path d="M193.88 536.67 Q196.55 534.51 198.29 536.87 Q198.09 539.33 194.19 541.20 L198.71 540.91" fill="none" stroke="#2a2626" stroke-width="1.00" stroke-linecap="round"/>
<path d="M191.11 542.38 Q193.47 540.81 198.29 541.00" fill="none" stroke="#2a2626" stroke-width="1.00" stroke-linecap="round"/>
<path d="M195.32 541.00 L195.42 545.92 Q195.73 547.30 196.86 546.81" fill="none" stroke="#2a2626" stroke-width="1.10" stroke-linecap="round"/>
<text transform="translate(203.93 549.80) scale(1.2450 1)" font-family='"Liberation Sans", sans-serif' font-size="14.30" fill="#1b1717" stroke="#1b1717" stroke-width="0.12">= 6.52, I</text>
<text transform="translate(269.79 542.00) scale(1.2000 1)" font-family='"Liberation Sans", sans-serif' font-size="8.50" fill="#1b1717" stroke="#1b1717" stroke-width="0.12">2</text>
<text transform="translate(280.13 549.80) scale(1.2450 1)" font-family='"Liberation Sans", sans-serif' font-size="14.30" fill="#1b1717" stroke="#1b1717" stroke-width="0.12">= 90.53%, H</text>
<text transform="translate(381.09 542.00) scale(1.2000 1)" font-family='"Liberation Sans", sans-serif' font-size="8.50" fill="#1b1717" stroke="#1b1717" stroke-width="0.12">2</text>
<text transform="translate(390.89 549.80) scale(1.2450 1)" font-family='"Liberation Sans", sans-serif' font-size="14.30" fill="#1b1717" stroke="#1b1717" stroke-width="0.12">= 10.56</text>
<text transform="translate(64.10 575.00) scale(1.2450 1)" font-family='"Liberation Sans", sans-serif' font-size="14.30" fill="#1b1717" stroke="#1b1717" stroke-width="0.12">Test of</text>
<ellipse cx="132.45" cy="568.15" rx="3.05" ry="3.95" fill="none" stroke="#2a2626" stroke-width="1.00"/>
<path d="M129.40 568.15L135.50 568.15" fill="none" stroke="#2a2626" stroke-width="0.80" stroke-linecap="round"/>
<path d="M133.05 572.10L132.75 577.00" fill="none" stroke="#2a2626" stroke-width="1.10" stroke-linecap="round"/>
<text transform="translate(140.03 575.00) scale(1.2450 1)" font-family='"Liberation Sans", sans-serif' font-size="14.30" fill="#1b1717" stroke="#1b1717" stroke-width="0.12">=</text>
<ellipse cx="164.55" cy="568.15" rx="2.55" ry="3.95" fill="none" stroke="#2a2626" stroke-width="1.00"/>
<path d="M162.00 568.15L167.10 568.15" fill="none" stroke="#2a2626" stroke-width="0.80" stroke-linecap="round"/>
<path d="M165.15 572.10L164.85 578.30" fill="none" stroke="#2a2626" stroke-width="1.10" stroke-linecap="round"/>
<text transform="translate(166.95 575.00) scale(1.2606 1)" font-family='"Liberation Sans", sans-serif' font-size="14.30" fill="#1b1717" stroke="#1b1717" stroke-width="0.12">: Q(15) = 158.43, p = 0.00</text>
<text transform="translate(64.10 599.10) scale(1.2450 1)" font-family='"Liberation Sans", sans-serif' font-size="14.30" fill="#1b1717" stroke="#1b1717" stroke-width="0.12">Test of</text>
<ellipse cx="132.45" cy="593.70" rx="2.75" ry="3.70" fill="none" stroke="#2a2626" stroke-width="1.00"/>
<path d="M129.70 593.70L135.20 593.70" fill="none" stroke="#2a2626" stroke-width="0.80" stroke-linecap="round"/>
<text transform="translate(137.42 599.10) scale(1.2620 1)" font-family='"Liberation Sans", sans-serif' font-size="14.30" fill="#1b1717" stroke="#1b1717" stroke-width="0.12">= 0: z = 5.17, p = 0.00</text>
<line x1="515.85" y1="608.20" x2="748.82" y2="608.20" stroke="#3c3c3c" stroke-width="1.40"/>
<line x1="517.20" y1="608.20" x2="517.20" y2="613.80" stroke="#3c3c3c" stroke-width="1.40"/>
<text transform="translate(509.44 626.50) scale(1.2000 1)" font-family='"Liberation Sans", sans-serif' font-size="14.50" fill="#1b1717" stroke="#1b1717" stroke-width="0.12">-5</text>
<line x1="592.40" y1="608.20" x2="592.40" y2="613.80" stroke="#3c3c3c" stroke-width="1.40"/>
<text transform="translate(587.56 626.50) scale(1.2000 1)" font-family='"Liberation Sans", sans-serif' font-size="14.50" fill="#1b1717" stroke="#1b1717" stroke-width="0.12">0</text>
<line x1="667.60" y1="608.20" x2="667.60" y2="613.80" stroke="#3c3c3c" stroke-width="1.40"/>
<text transform="translate(662.78 626.50) scale(1.2000 1)" font-family='"Liberation Sans", sans-serif' font-size="14.50" fill="#1b1717" stroke="#1b1717" stroke-width="0.12">5</text>
<line x1="742.80" y1="608.20" x2="742.80" y2="613.80" stroke="#3c3c3c" stroke-width="1.40"/>
<text transform="translate(732.80 626.50) scale(1.2000 1)" font-family='"Liberation Sans", sans-serif' font-size="14.50" fill="#1b1717" stroke="#1b1717" stroke-width="0.12">10</text>
<text transform="translate(54.02 657.50) scale(1.2000 1)" font-family='"Liberation Sans", sans-serif' font-size="15.00" fill="#1b1717" stroke="#1b1717" stroke-width="0.12">Random-effects DerSimonian–Laird model</text>
<text transform="translate(676.65 657.60) scale(1.0934 1)" font-family='"Liberation Sans", sans-serif' font-size="24.00" fill="#1b1717" stroke="#1b1717" stroke-width="0.12">Number of lymph nodes cleared</text>
<text transform="translate(0.47 693.50) scale(1.0600 1)" font-family='"Liberation Sans", sans-serif' font-size="62.50" fill="#231815" stroke="#231815" stroke-width="0.12">B</text>
<text transform="translate(212.99 693.40) scale(1.0800 1)" font-family='"Liberation Sans", sans-serif' font-size="17.00" fill="#1b1717" stroke="#1b1717" stroke-width="0.12">Treatment</text>
<text transform="translate(381.77 693.40) scale(1.0800 1)" font-family='"Liberation Sans", sans-serif' font-size="17.00" fill="#1b1717" stroke="#1b1717" stroke-width="0.12">Control</text>
<text transform="translate(56.67 717.60) scale(1.0800 1)" font-family='"Liberation Sans", sans-serif' font-size="17.00" fill="#1b1717" stroke="#1b1717" stroke-width="0.12">Study</text>
<text transform="translate(190.59 717.60) scale(1.0800 1)" font-family='"Liberation Sans", sans-serif' font-size="17.00" fill="#1b1717" stroke="#1b1717" stroke-width="0.12">N</text>
<text transform="translate(227.09 717.60) scale(1.0800 1)" font-family='"Liberation Sans", sans-serif' font-size="17.00" fill="#1b1717" stroke="#1b1717" stroke-width="0.12">Mean</text>
<text transform="translate(294.67 717.60) scale(1.0800 1)" font-family='"Liberation Sans", sans-serif' font-size="17.00" fill="#1b1717" stroke="#1b1717" stroke-width="0.12">SD</text>
<text transform="translate(349.59 717.60) scale(1.0800 1)" font-family='"Liberation Sans", sans-serif' font-size="17.00" fill="#1b1717" stroke="#1b1717" stroke-width="0.12">N</text>
<text transform="translate(385.69 717.60) scale(1.0800 1)" font-family='"Liberation Sans", sans-serif' font-size="17.00" fill="#1b1717" stroke="#1b1717" stroke-width="0.12">Mean</text>
<text transform="translate(452.77 717.60) scale(1.0800 1)" font-family='"Liberation Sans", sans-serif' font-size="17.00" fill="#1b1717" stroke="#1b1717" stroke-width="0.12">SD</text>
<text transform="translate(794.39 693.10) scale(1.0800 1)" font-family='"Liberation Sans", sans-serif' font-size="17.00" fill="#1b1717" stroke="#1b1717" stroke-width="0.12">Mean diff.</text>
<text transform="translate(787.13 716.70) scale(1.0800 1)" font-family='"Liberation Sans", sans-serif' font-size="17.00" fill="#1b1717" stroke="#1b1717" stroke-width="0.12">with 95% CI</text>
<text transform="translate(929.42 693.10) scale(1.0800 1)" font-family='"Liberation Sans", sans-serif' font-size="17.00" fill="#1b1717" stroke="#1b1717" stroke-width="0.12">Weight</text>
<text transform="translate(942.96 716.70) scale(1.0800 1)" font-family='"Liberation Sans", sans-serif' font-size="17.00" fill="#1b1717" stroke="#1b1717" stroke-width="0.12">(%)</text>
<line x1="52.90" y1="726.50" x2="994.20" y2="726.50" stroke="#111" stroke-width="1.40"/>
<line x1="590.10" y1="726.30" x2="590.10" y2="1192.80" stroke="#a9443f" stroke-width="1.10"/>
<text transform="translate(56.99 757.90) scale(1.0800 1)" font-family='"Liberation Sans", sans-serif' font-size="17.00" fill="#1b1717" stroke="#1b1717" stroke-width="0.12">sun(2023)</text>
<text transform="translate(188.98 757.90) scale(1.0800 1)" font-family='"Liberation Sans", sans-serif' font-size="17.00" fill="#1b1717" stroke="#1b1717" stroke-width="0.12">28</text>
<text transform="translate(240.87 757.90) scale(1.0800 1)" font-family='"Liberation Sans", sans-serif' font-size="17.00" fill="#1b1717" stroke="#1b1717" stroke-width="0.12">2.8</text>
<text transform="translate(297.40 757.90) scale(1.0800 1)" font-family='"Liberation Sans", sans-serif' font-size="17.00" fill="#1b1717" stroke="#1b1717" stroke-width="0.12">1.2</text>
<text transform="translate(347.88 757.90) scale(1.0800 1)" font-family='"Liberation Sans", sans-serif' font-size="17.00" fill="#1b1717" stroke="#1b1717" stroke-width="0.12">28</text>
<text transform="translate(399.20 757.90) scale(1.0800 1)" font-family='"Liberation Sans", sans-serif' font-size="17.00" fill="#1b1717" stroke="#1b1717" stroke-width="0.12">2.2</text>
<text transform="translate(455.28 757.90) scale(1.0800 1)" font-family='"Liberation Sans", sans-serif' font-size="17.00" fill="#1b1717" stroke="#1b1717" stroke-width="0.12">1.3</text>
<text transform="translate(763.68 757.90) scale(1.0800 1)" font-family='"Liberation Sans", sans-serif' font-size="17.00" fill="#1b1717" stroke="#1b1717" stroke-width="0.12">0.60</text>
<text transform="translate(803.59 757.90) scale(1.0800 1)" font-family='"Liberation Sans", sans-serif' font-size="17.00" fill="#1b1717" stroke="#1b1717" stroke-width="0.12">[</text>
<text transform="translate(816.60 757.90) scale(1.0800 1)" font-family='"Liberation Sans", sans-serif' font-size="17.00" fill="#1b1717" stroke="#1b1717" stroke-width="0.12">-0.06,</text>
<text transform="translate(872.87 757.90) scale(1.0800 1)" font-family='"Liberation Sans", sans-serif' font-size="17.00" fill="#1b1717" stroke="#1b1717" stroke-width="0.12">1.26]</text>
<text transform="translate(941.87 757.90) scale(1.0800 1)" font-family='"Liberation Sans", sans-serif' font-size="17.00" fill="#1b1717" stroke="#1b1717" stroke-width="0.12">8.66</text>
<line x1="585.93" y1="751.50" x2="677.73" y2="751.50" stroke="#3776be" stroke-width="1.60"/>
<rect x="624.04" y="744.29" width="15.57" height="14.42" fill="#3776be"/>
<text transform="translate(56.76 787.85) scale(1.0800 1)" font-family='"Liberation Sans", sans-serif' font-size="17.00" fill="#1b1717" stroke="#1b1717" stroke-width="0.12">zhou(2019)</text>
<text transform="translate(189.10 787.85) scale(1.0800 1)" font-family='"Liberation Sans", sans-serif' font-size="17.00" fill="#1b1717" stroke="#1b1717" stroke-width="0.12">57</text>
<text transform="translate(240.88 787.85) scale(1.0800 1)" font-family='"Liberation Sans", sans-serif' font-size="17.00" fill="#1b1717" stroke="#1b1717" stroke-width="0.12">2.3</text>
<text transform="translate(297.28 787.85) scale(1.0800 1)" font-family='"Liberation Sans", sans-serif' font-size="17.00" fill="#1b1717" stroke="#1b1717" stroke-width="0.12">1.6</text>
<text transform="translate(348.00 787.85) scale(1.0800 1)" font-family='"Liberation Sans", sans-serif' font-size="17.00" fill="#1b1717" stroke="#1b1717" stroke-width="0.12">77</text>
<text transform="translate(399.08 787.85) scale(1.0800 1)" font-family='"Liberation Sans", sans-serif' font-size="17.00" fill="#1b1717" stroke="#1b1717" stroke-width="0.12">2.6</text>
<text transform="translate(455.27 787.85) scale(1.0800 1)" font-family='"Liberation Sans", sans-serif' font-size="17.00" fill="#1b1717" stroke="#1b1717" stroke-width="0.12">1.8</text>
<text transform="translate(757.57 787.85) scale(1.0800 1)" font-family='"Liberation Sans", sans-serif' font-size="17.00" fill="#1b1717" stroke="#1b1717" stroke-width="0.12">-0.30</text>
<text transform="translate(803.59 787.85) scale(1.0800 1)" font-family='"Liberation Sans", sans-serif' font-size="17.00" fill="#1b1717" stroke="#1b1717" stroke-width="0.12">[</text>
<text transform="translate(816.60 787.85) scale(1.0800 1)" font-family='"Liberation Sans", sans-serif' font-size="17.00" fill="#1b1717" stroke="#1b1717" stroke-width="0.12">-0.89,</text>
<text transform="translate(872.87 787.85) scale(1.0800 1)" font-family='"Liberation Sans", sans-serif' font-size="17.00" fill="#1b1717" stroke="#1b1717" stroke-width="0.12">0.29]</text>
<text transform="translate(941.87 787.85) scale(1.0800 1)" font-family='"Liberation Sans", sans-serif' font-size="17.00" fill="#1b1717" stroke="#1b1717" stroke-width="0.12">9.53</text>
<line x1="528.20" y1="781.45" x2="610.27" y2="781.45" stroke="#3776be" stroke-width="1.60"/>
<rect x="561.07" y="773.89" width="16.34" height="15.13" fill="#3776be"/>
<text transform="translate(56.73 817.80) scale(1.0800 1)" font-family='"Liberation Sans", sans-serif' font-size="17.00" fill="#1b1717" stroke="#1b1717" stroke-width="0.12">qin(2023)</text>
<text transform="translate(188.95 817.80) scale(1.0800 1)" font-family='"Liberation Sans", sans-serif' font-size="17.00" fill="#1b1717" stroke="#1b1717" stroke-width="0.12">45</text>
<text transform="translate(230.64 817.80) scale(1.0800 1)" font-family='"Liberation Sans", sans-serif' font-size="17.00" fill="#1b1717" stroke="#1b1717" stroke-width="0.12">4.95</text>
<text transform="translate(287.07 817.80) scale(1.0800 1)" font-family='"Liberation Sans", sans-serif' font-size="17.00" fill="#1b1717" stroke="#1b1717" stroke-width="0.12">1.43</text>
<text transform="translate(347.62 817.80) scale(1.0800 1)" font-family='"Liberation Sans", sans-serif' font-size="17.00" fill="#1b1717" stroke="#1b1717" stroke-width="0.12">44</text>
<text transform="translate(388.99 817.80) scale(1.0800 1)" font-family='"Liberation Sans", sans-serif' font-size="17.00" fill="#1b1717" stroke="#1b1717" stroke-width="0.12">3.82</text>
<text transform="translate(445.07 817.80) scale(1.0800 1)" font-family='"Liberation Sans", sans-serif' font-size="17.00" fill="#1b1717" stroke="#1b1717" stroke-width="0.12">1.53</text>
<text transform="translate(763.77 817.80) scale(1.0800 1)" font-family='"Liberation Sans", sans-serif' font-size="17.00" fill="#1b1717" stroke="#1b1717" stroke-width="0.12">1.13</text>
<text transform="translate(803.59 817.80) scale(1.0800 1)" font-family='"Liberation Sans", sans-serif' font-size="17.00" fill="#1b1717" stroke="#1b1717" stroke-width="0.12">[</text>
<text transform="translate(822.71 817.80) scale(1.0800 1)" font-family='"Liberation Sans", sans-serif' font-size="17.00" fill="#1b1717" stroke="#1b1717" stroke-width="0.12">0.51,</text>
<text transform="translate(872.87 817.80) scale(1.0800 1)" font-family='"Liberation Sans", sans-serif' font-size="17.00" fill="#1b1717" stroke="#1b1717" stroke-width="0.12">1.75]</text>
<text transform="translate(941.99 817.80) scale(1.0800 1)" font-family='"Liberation Sans", sans-serif' font-size="17.00" fill="#1b1717" stroke="#1b1717" stroke-width="0.12">9.17</text>
<line x1="625.57" y1="811.40" x2="711.81" y2="811.40" stroke="#3776be" stroke-width="1.60"/>
<rect x="660.68" y="803.98" width="16.03" height="14.84" fill="#3776be"/>
<text transform="translate(56.99 847.75) scale(1.0800 1)" font-family='"Liberation Sans", sans-serif' font-size="17.00" fill="#1b1717" stroke="#1b1717" stroke-width="0.12">sun(2020)</text>
<text transform="translate(189.07 847.75) scale(1.0800 1)" font-family='"Liberation Sans", sans-serif' font-size="17.00" fill="#1b1717" stroke="#1b1717" stroke-width="0.12">31</text>
<text transform="translate(251.21 847.75) scale(1.0800 1)" font-family='"Liberation Sans", sans-serif' font-size="17.00" fill="#1b1717" stroke="#1b1717" stroke-width="0.12">.7</text>
<text transform="translate(297.40 847.75) scale(1.0800 1)" font-family='"Liberation Sans", sans-serif' font-size="17.00" fill="#1b1717" stroke="#1b1717" stroke-width="0.12">1.2</text>
<text transform="translate(348.00 847.75) scale(1.0800 1)" font-family='"Liberation Sans", sans-serif' font-size="17.00" fill="#1b1717" stroke="#1b1717" stroke-width="0.12">52</text>
<text transform="translate(409.41 847.75) scale(1.0800 1)" font-family='"Liberation Sans", sans-serif' font-size="17.00" fill="#1b1717" stroke="#1b1717" stroke-width="0.12">.7</text>
<text transform="translate(455.01 847.75) scale(1.0800 1)" font-family='"Liberation Sans", sans-serif' font-size="17.00" fill="#1b1717" stroke="#1b1717" stroke-width="0.12">1.4</text>
<text transform="translate(763.68 847.75) scale(1.0800 1)" font-family='"Liberation Sans", sans-serif' font-size="17.00" fill="#1b1717" stroke="#1b1717" stroke-width="0.12">0.00</text>
<text transform="translate(803.59 847.75) scale(1.0800 1)" font-family='"Liberation Sans", sans-serif' font-size="17.00" fill="#1b1717" stroke="#1b1717" stroke-width="0.12">[</text>
<text transform="translate(816.60 847.75) scale(1.0800 1)" font-family='"Liberation Sans", sans-serif' font-size="17.00" fill="#1b1717" stroke="#1b1717" stroke-width="0.12">-0.59,</text>
<text transform="translate(872.87 847.75) scale(1.0800 1)" font-family='"Liberation Sans", sans-serif' font-size="17.00" fill="#1b1717" stroke="#1b1717" stroke-width="0.12">0.59]</text>
<text transform="translate(941.94 847.75) scale(1.0800 1)" font-family='"Liberation Sans", sans-serif' font-size="17.00" fill="#1b1717" stroke="#1b1717" stroke-width="0.12">9.49</text>
<line x1="549.07" y1="841.35" x2="631.13" y2="841.35" stroke="#3776be" stroke-width="1.60"/>
<rect x="581.95" y="833.80" width="16.30" height="15.09" fill="#3776be"/>
<text transform="translate(56.23 877.70) scale(1.0800 1)" font-family='"Liberation Sans", sans-serif' font-size="17.00" fill="#1b1717" stroke="#1b1717" stroke-width="0.12">hou(2020)</text>
<text transform="translate(188.98 877.70) scale(1.0800 1)" font-family='"Liberation Sans", sans-serif' font-size="17.00" fill="#1b1717" stroke="#1b1717" stroke-width="0.12">48</text>
<text transform="translate(241.00 877.70) scale(1.0800 1)" font-family='"Liberation Sans", sans-serif' font-size="17.00" fill="#1b1717" stroke="#1b1717" stroke-width="0.12">2.2</text>
<text transform="translate(297.35 877.70) scale(1.0800 1)" font-family='"Liberation Sans", sans-serif' font-size="17.00" fill="#1b1717" stroke="#1b1717" stroke-width="0.12">4.9</text>
<text transform="translate(347.62 877.70) scale(1.0800 1)" font-family='"Liberation Sans", sans-serif' font-size="17.00" fill="#1b1717" stroke="#1b1717" stroke-width="0.12">54</text>
<text transform="translate(398.81 877.70) scale(1.0800 1)" font-family='"Liberation Sans", sans-serif' font-size="17.00" fill="#1b1717" stroke="#1b1717" stroke-width="0.12">1.4</text>
<text transform="translate(455.27 877.70) scale(1.0800 1)" font-family='"Liberation Sans", sans-serif' font-size="17.00" fill="#1b1717" stroke="#1b1717" stroke-width="0.12">2.8</text>
<text transform="translate(763.68 877.70) scale(1.0800 1)" font-family='"Liberation Sans", sans-serif' font-size="17.00" fill="#1b1717" stroke="#1b1717" stroke-width="0.12">0.80</text>
<text transform="translate(803.59 877.70) scale(1.0800 1)" font-family='"Liberation Sans", sans-serif' font-size="17.00" fill="#1b1717" stroke="#1b1717" stroke-width="0.12">[</text>
<text transform="translate(816.60 877.70) scale(1.0800 1)" font-family='"Liberation Sans", sans-serif' font-size="17.00" fill="#1b1717" stroke="#1b1717" stroke-width="0.12">-0.73,</text>
<text transform="translate(872.87 877.70) scale(1.0800 1)" font-family='"Liberation Sans", sans-serif' font-size="17.00" fill="#1b1717" stroke="#1b1717" stroke-width="0.12">2.33]</text>
<text transform="translate(941.99 877.70) scale(1.0800 1)" font-family='"Liberation Sans", sans-serif' font-size="17.00" fill="#1b1717" stroke="#1b1717" stroke-width="0.12">2.82</text>
<line x1="539.33" y1="871.30" x2="752.15" y2="871.30" stroke="#3776be" stroke-width="1.60"/>
<rect x="641.30" y="867.19" width="8.89" height="8.23" fill="#3776be"/>
<text transform="translate(57.24 907.65) scale(1.0800 1)" font-family='"Liberation Sans", sans-serif' font-size="17.00" fill="#1b1717" stroke="#1b1717" stroke-width="0.12">fu(2019)</text>
<text transform="translate(178.89 907.65) scale(1.0800 1)" font-family='"Liberation Sans", sans-serif' font-size="17.00" fill="#1b1717" stroke="#1b1717" stroke-width="0.12">377</text>
<text transform="translate(251.21 907.65) scale(1.0800 1)" font-family='"Liberation Sans", sans-serif' font-size="17.00" fill="#1b1717" stroke="#1b1717" stroke-width="0.12">.7</text>
<text transform="translate(287.14 907.65) scale(1.0800 1)" font-family='"Liberation Sans", sans-serif' font-size="17.00" fill="#1b1717" stroke="#1b1717" stroke-width="0.12">1.49</text>
<text transform="translate(337.67 907.65) scale(1.0800 1)" font-family='"Liberation Sans", sans-serif' font-size="17.00" fill="#1b1717" stroke="#1b1717" stroke-width="0.12">578</text>
<text transform="translate(409.41 907.65) scale(1.0800 1)" font-family='"Liberation Sans", sans-serif' font-size="17.00" fill="#1b1717" stroke="#1b1717" stroke-width="0.12">.7</text>
<text transform="translate(445.14 907.65) scale(1.0800 1)" font-family='"Liberation Sans", sans-serif' font-size="17.00" fill="#1b1717" stroke="#1b1717" stroke-width="0.12">1.49</text>
<text transform="translate(763.68 907.65) scale(1.0800 1)" font-family='"Liberation Sans", sans-serif' font-size="17.00" fill="#1b1717" stroke="#1b1717" stroke-width="0.12">0.00</text>
<text transform="translate(803.59 907.65) scale(1.0800 1)" font-family='"Liberation Sans", sans-serif' font-size="17.00" fill="#1b1717" stroke="#1b1717" stroke-width="0.12">[</text>
<text transform="translate(816.60 907.65) scale(1.0800 1)" font-family='"Liberation Sans", sans-serif' font-size="17.00" fill="#1b1717" stroke="#1b1717" stroke-width="0.12">-0.19,</text>
<text transform="translate(872.87 907.65) scale(1.0800 1)" font-family='"Liberation Sans", sans-serif' font-size="17.00" fill="#1b1717" stroke="#1b1717" stroke-width="0.12">0.19]</text>
<text transform="translate(931.66 907.65) scale(1.0800 1)" font-family='"Liberation Sans", sans-serif' font-size="17.00" fill="#1b1717" stroke="#1b1717" stroke-width="0.12">15.13</text>
<line x1="576.89" y1="901.25" x2="603.31" y2="901.25" stroke="#3776be" stroke-width="1.60"/>
<rect x="579.81" y="891.72" width="20.58" height="19.06" fill="#3776be"/>
<text transform="translate(57.53 937.60) scale(1.0800 1)" font-family='"Liberation Sans", sans-serif' font-size="17.00" fill="#1b1717" stroke="#1b1717" stroke-width="0.12">wu(2022)</text>
<text transform="translate(188.90 937.60) scale(1.0800 1)" font-family='"Liberation Sans", sans-serif' font-size="17.00" fill="#1b1717" stroke="#1b1717" stroke-width="0.12">40</text>
<text transform="translate(240.87 937.60) scale(1.0800 1)" font-family='"Liberation Sans", sans-serif' font-size="17.00" fill="#1b1717" stroke="#1b1717" stroke-width="0.12">2.8</text>
<text transform="translate(297.28 937.60) scale(1.0800 1)" font-family='"Liberation Sans", sans-serif' font-size="17.00" fill="#1b1717" stroke="#1b1717" stroke-width="0.12">1.6</text>
<text transform="translate(347.80 937.60) scale(1.0800 1)" font-family='"Liberation Sans", sans-serif' font-size="17.00" fill="#1b1717" stroke="#1b1717" stroke-width="0.12">40</text>
<text transform="translate(399.17 937.60) scale(1.0800 1)" font-family='"Liberation Sans", sans-serif' font-size="17.00" fill="#1b1717" stroke="#1b1717" stroke-width="0.12">2.1</text>
<text transform="translate(455.40 937.60) scale(1.0800 1)" font-family='"Liberation Sans", sans-serif' font-size="17.00" fill="#1b1717" stroke="#1b1717" stroke-width="0.12">1.2</text>
<text transform="translate(763.68 937.60) scale(1.0800 1)" font-family='"Liberation Sans", sans-serif' font-size="17.00" fill="#1b1717" stroke="#1b1717" stroke-width="0.12">0.70</text>
<text transform="translate(803.59 937.60) scale(1.0800 1)" font-family='"Liberation Sans", sans-serif' font-size="17.00" fill="#1b1717" stroke="#1b1717" stroke-width="0.12">[</text>
<text transform="translate(822.71 937.60) scale(1.0800 1)" font-family='"Liberation Sans", sans-serif' font-size="17.00" fill="#1b1717" stroke="#1b1717" stroke-width="0.12">0.08,</text>
<text transform="translate(872.87 937.60) scale(1.0800 1)" font-family='"Liberation Sans", sans-serif' font-size="17.00" fill="#1b1717" stroke="#1b1717" stroke-width="0.12">1.32]</text>
<text transform="translate(941.96 937.60) scale(1.0800 1)" font-family='"Liberation Sans", sans-serif' font-size="17.00" fill="#1b1717" stroke="#1b1717" stroke-width="0.12">9.11</text>
<line x1="595.66" y1="931.20" x2="681.91" y2="931.20" stroke="#3776be" stroke-width="1.60"/>
<rect x="630.80" y="923.81" width="15.97" height="14.79" fill="#3776be"/>
<text transform="translate(56.76 967.55) scale(1.0800 1)" font-family='"Liberation Sans", sans-serif' font-size="17.00" fill="#1b1717" stroke="#1b1717" stroke-width="0.12">zhang(2020)</text>
<text transform="translate(188.98 967.55) scale(1.0800 1)" font-family='"Liberation Sans", sans-serif' font-size="17.00" fill="#1b1717" stroke="#1b1717" stroke-width="0.12">38</text>
<text transform="translate(230.67 967.55) scale(1.0800 1)" font-family='"Liberation Sans", sans-serif' font-size="17.00" fill="#1b1717" stroke="#1b1717" stroke-width="0.12">4.93</text>
<text transform="translate(287.07 967.55) scale(1.0800 1)" font-family='"Liberation Sans", sans-serif' font-size="17.00" fill="#1b1717" stroke="#1b1717" stroke-width="0.12">1.76</text>
<text transform="translate(347.88 967.55) scale(1.0800 1)" font-family='"Liberation Sans", sans-serif' font-size="17.00" fill="#1b1717" stroke="#1b1717" stroke-width="0.12">38</text>
<text transform="translate(388.84 967.55) scale(1.0800 1)" font-family='"Liberation Sans", sans-serif' font-size="17.00" fill="#1b1717" stroke="#1b1717" stroke-width="0.12">3.85</text>
<text transform="translate(445.16 967.55) scale(1.0800 1)" font-family='"Liberation Sans", sans-serif' font-size="17.00" fill="#1b1717" stroke="#1b1717" stroke-width="0.12">1.41</text>
<text transform="translate(763.76 967.55) scale(1.0800 1)" font-family='"Liberation Sans", sans-serif' font-size="17.00" fill="#1b1717" stroke="#1b1717" stroke-width="0.12">1.08</text>
<text transform="translate(803.59 967.55) scale(1.0800 1)" font-family='"Liberation Sans", sans-serif' font-size="17.00" fill="#1b1717" stroke="#1b1717" stroke-width="0.12">[</text>
<text transform="translate(822.71 967.55) scale(1.0800 1)" font-family='"Liberation Sans", sans-serif' font-size="17.00" fill="#1b1717" stroke="#1b1717" stroke-width="0.12">0.36,</text>
<text transform="translate(872.87 967.55) scale(1.0800 1)" font-family='"Liberation Sans", sans-serif' font-size="17.00" fill="#1b1717" stroke="#1b1717" stroke-width="0.12">1.80]</text>
<text transform="translate(941.87 967.55) scale(1.0800 1)" font-family='"Liberation Sans", sans-serif' font-size="17.00" fill="#1b1717" stroke="#1b1717" stroke-width="0.12">7.93</text>
<line x1="615.14" y1="961.15" x2="715.29" y2="961.15" stroke="#3776be" stroke-width="1.60"/>
<rect x="657.76" y="954.25" width="14.90" height="13.80" fill="#3776be"/>
<text transform="translate(57.24 997.50) scale(1.0800 1)" font-family='"Liberation Sans", sans-serif' font-size="17.00" fill="#1b1717" stroke="#1b1717" stroke-width="0.12">feng(2021)</text>
<text transform="translate(178.89 997.50) scale(1.0800 1)" font-family='"Liberation Sans", sans-serif' font-size="17.00" fill="#1b1717" stroke="#1b1717" stroke-width="0.12">307</text>
<text transform="translate(230.66 997.50) scale(1.0800 1)" font-family='"Liberation Sans", sans-serif' font-size="17.00" fill="#1b1717" stroke="#1b1717" stroke-width="0.12">1.88</text>
<text transform="translate(287.07 997.50) scale(1.0800 1)" font-family='"Liberation Sans", sans-serif' font-size="17.00" fill="#1b1717" stroke="#1b1717" stroke-width="0.12">3.66</text>
<text transform="translate(337.41 997.50) scale(1.0800 1)" font-family='"Liberation Sans", sans-serif' font-size="17.00" fill="#1b1717" stroke="#1b1717" stroke-width="0.12">614</text>
<text transform="translate(388.86 997.50) scale(1.0800 1)" font-family='"Liberation Sans", sans-serif' font-size="17.00" fill="#1b1717" stroke="#1b1717" stroke-width="0.12">1.78</text>
<text transform="translate(455.37 997.50) scale(1.0800 1)" font-family='"Liberation Sans", sans-serif' font-size="17.00" fill="#1b1717" stroke="#1b1717" stroke-width="0.12">4.1</text>
<text transform="translate(763.68 997.50) scale(1.0800 1)" font-family='"Liberation Sans", sans-serif' font-size="17.00" fill="#1b1717" stroke="#1b1717" stroke-width="0.12">0.10</text>
<text transform="translate(803.59 997.50) scale(1.0800 1)" font-family='"Liberation Sans", sans-serif' font-size="17.00" fill="#1b1717" stroke="#1b1717" stroke-width="0.12">[</text>
<text transform="translate(816.60 997.50) scale(1.0800 1)" font-family='"Liberation Sans", sans-serif' font-size="17.00" fill="#1b1717" stroke="#1b1717" stroke-width="0.12">-0.44,</text>
<text transform="translate(872.87 997.50) scale(1.0800 1)" font-family='"Liberation Sans", sans-serif' font-size="17.00" fill="#1b1717" stroke="#1b1717" stroke-width="0.12">0.64]</text>
<text transform="translate(931.66 997.50) scale(1.0800 1)" font-family='"Liberation Sans", sans-serif' font-size="17.00" fill="#1b1717" stroke="#1b1717" stroke-width="0.12">10.16</text>
<line x1="559.50" y1="991.10" x2="634.61" y2="991.10" stroke="#3776be" stroke-width="1.60"/>
<rect x="588.62" y="983.29" width="16.87" height="15.62" fill="#3776be"/>
<text transform="translate(56.73 1027.45) scale(1.0800 1)" font-family='"Liberation Sans", sans-serif' font-size="17.00" fill="#1b1717" stroke="#1b1717" stroke-width="0.12">dai(2018)</text>
<text transform="translate(188.72 1027.45) scale(1.0800 1)" font-family='"Liberation Sans", sans-serif' font-size="17.00" fill="#1b1717" stroke="#1b1717" stroke-width="0.12">34</text>
<text transform="translate(251.09 1027.45) scale(1.0800 1)" font-family='"Liberation Sans", sans-serif' font-size="17.00" fill="#1b1717" stroke="#1b1717" stroke-width="0.12">.6</text>
<text transform="translate(297.27 1027.45) scale(1.0800 1)" font-family='"Liberation Sans", sans-serif' font-size="17.00" fill="#1b1717" stroke="#1b1717" stroke-width="0.12">1.8</text>
<text transform="translate(347.88 1027.45) scale(1.0800 1)" font-family='"Liberation Sans", sans-serif' font-size="17.00" fill="#1b1717" stroke="#1b1717" stroke-width="0.12">68</text>
<text transform="translate(409.36 1027.45) scale(1.0800 1)" font-family='"Liberation Sans", sans-serif' font-size="17.00" fill="#1b1717" stroke="#1b1717" stroke-width="0.12">.9</text>
<text transform="translate(455.37 1027.45) scale(1.0800 1)" font-family='"Liberation Sans", sans-serif' font-size="17.00" fill="#1b1717" stroke="#1b1717" stroke-width="0.12">2.1</text>
<text transform="translate(757.57 1027.45) scale(1.0800 1)" font-family='"Liberation Sans", sans-serif' font-size="17.00" fill="#1b1717" stroke="#1b1717" stroke-width="0.12">-0.30</text>
<text transform="translate(803.59 1027.45) scale(1.0800 1)" font-family='"Liberation Sans", sans-serif' font-size="17.00" fill="#1b1717" stroke="#1b1717" stroke-width="0.12">[</text>
<text transform="translate(816.60 1027.45) scale(1.0800 1)" font-family='"Liberation Sans", sans-serif' font-size="17.00" fill="#1b1717" stroke="#1b1717" stroke-width="0.12">-1.13,</text>
<text transform="translate(872.87 1027.45) scale(1.0800 1)" font-family='"Liberation Sans", sans-serif' font-size="17.00" fill="#1b1717" stroke="#1b1717" stroke-width="0.12">0.53]</text>
<text transform="translate(941.94 1027.45) scale(1.0800 1)" font-family='"Liberation Sans", sans-serif' font-size="17.00" fill="#1b1717" stroke="#1b1717" stroke-width="0.12">6.79</text>
<line x1="511.51" y1="1021.05" x2="626.96" y2="1021.05" stroke="#3776be" stroke-width="1.60"/>
<rect x="562.34" y="1014.67" width="13.79" height="12.77" fill="#3776be"/>
<text transform="translate(57.46 1057.40) scale(1.0800 1)" font-family='"Liberation Sans", sans-serif' font-size="17.00" fill="#1b1717" stroke="#1b1717" stroke-width="0.12">yi(2019)</text>
<text transform="translate(188.72 1057.40) scale(1.0800 1)" font-family='"Liberation Sans", sans-serif' font-size="17.00" fill="#1b1717" stroke="#1b1717" stroke-width="0.12">84</text>
<text transform="translate(230.79 1057.40) scale(1.0800 1)" font-family='"Liberation Sans", sans-serif' font-size="17.00" fill="#1b1717" stroke="#1b1717" stroke-width="0.12">2.57</text>
<text transform="translate(287.07 1057.40) scale(1.0800 1)" font-family='"Liberation Sans", sans-serif' font-size="17.00" fill="#1b1717" stroke="#1b1717" stroke-width="0.12">1.93</text>
<text transform="translate(347.62 1057.40) scale(1.0800 1)" font-family='"Liberation Sans", sans-serif' font-size="17.00" fill="#1b1717" stroke="#1b1717" stroke-width="0.12">84</text>
<text transform="translate(388.96 1057.40) scale(1.0800 1)" font-family='"Liberation Sans", sans-serif' font-size="17.00" fill="#1b1717" stroke="#1b1717" stroke-width="0.12">2.51</text>
<text transform="translate(445.04 1057.40) scale(1.0800 1)" font-family='"Liberation Sans", sans-serif' font-size="17.00" fill="#1b1717" stroke="#1b1717" stroke-width="0.12">1.05</text>
<text transform="translate(763.77 1057.40) scale(1.0800 1)" font-family='"Liberation Sans", sans-serif' font-size="17.00" fill="#1b1717" stroke="#1b1717" stroke-width="0.12">0.06</text>
<text transform="translate(803.59 1057.40) scale(1.0800 1)" font-family='"Liberation Sans", sans-serif' font-size="17.00" fill="#1b1717" stroke="#1b1717" stroke-width="0.12">[</text>
<text transform="translate(816.60 1057.40) scale(1.0800 1)" font-family='"Liberation Sans", sans-serif' font-size="17.00" fill="#1b1717" stroke="#1b1717" stroke-width="0.12">-0.41,</text>
<text transform="translate(872.87 1057.40) scale(1.0800 1)" font-family='"Liberation Sans", sans-serif' font-size="17.00" fill="#1b1717" stroke="#1b1717" stroke-width="0.12">0.53]</text>
<text transform="translate(931.75 1057.40) scale(1.0800 1)" font-family='"Liberation Sans", sans-serif' font-size="17.00" fill="#1b1717" stroke="#1b1717" stroke-width="0.12">11.21</text>
<line x1="561.58" y1="1051.00" x2="626.96" y2="1051.00" stroke="#3776be" stroke-width="1.60"/>
<rect x="585.41" y="1042.80" width="17.72" height="16.41" fill="#3776be"/>
<text transform="translate(56.15 1093.00) scale(0.7800 1)" font-family='"Liberation Serif", serif' font-size="16.50" fill="#333" stroke="#333" stroke-width="0.35">O</text>
<text transform="translate(65.36 1093.00) scale(1.1500 1)" font-family='"Liberation Serif", serif' font-size="16.50" fill="#333" stroke="#333" stroke-width="0.35">v</text>
<text transform="translate(75.15 1093.00) scale(1.1500 1)" font-family='"Liberation Serif", serif' font-size="16.50" fill="#333" stroke="#333" stroke-width="0.35">e</text>
<text transform="translate(85.43 1093.00) scale(1.1500 1)" font-family='"Liberation Serif", serif' font-size="16.50" fill="#333" stroke="#333" stroke-width="0.35">r</text>
<text transform="translate(93.59 1093.00) scale(1.1500 1)" font-family='"Liberation Serif", serif' font-size="16.50" fill="#333" stroke="#333" stroke-width="0.35">a</text>
<text transform="translate(104.66 1093.00) scale(1.1500 1)" font-family='"Liberation Serif", serif' font-size="16.50" fill="#333" stroke="#333" stroke-width="0.35">l</text>
<text transform="translate(113.96 1093.00) scale(1.1500 1)" font-family='"Liberation Serif", serif' font-size="16.50" fill="#333" stroke="#333" stroke-width="0.35">l</text>
<text transform="translate(763.68 1092.00) scale(1.0800 1)" font-family='"Liberation Sans", sans-serif' font-size="17.00" fill="#1b1717" stroke="#1b1717" stroke-width="0.12">0.30</text>
<text transform="translate(803.59 1092.00) scale(1.0800 1)" font-family='"Liberation Sans", sans-serif' font-size="17.00" fill="#1b1717" stroke="#1b1717" stroke-width="0.12">[</text>
<text transform="translate(822.71 1092.00) scale(1.0800 1)" font-family='"Liberation Sans", sans-serif' font-size="17.00" fill="#1b1717" stroke="#1b1717" stroke-width="0.12">0.01,</text>
<text transform="translate(872.87 1092.00) scale(1.0800 1)" font-family='"Liberation Sans", sans-serif' font-size="17.00" fill="#1b1717" stroke="#1b1717" stroke-width="0.12">0.58]</text>
<polygon points="590.80,1087.20 610.97,1079.00 630.44,1087.20 610.97,1095.40" fill="#2bb37a"/>
<text transform="translate(56.19 1123.00) scale(1.0800 1)" font-family='"Liberation Sans", sans-serif' font-size="17.00" fill="#1b1717" stroke="#1b1717" stroke-width="0.12">Heterogeneity:</text>
<path d="M191.38 1108.64 Q194.05 1106.25 195.79 1108.86 Q195.59 1111.58 191.69 1113.65 L196.21 1113.32" fill="none" stroke="#2a2626" stroke-width="1.10" stroke-linecap="round"/>
<path d="M188.61 1114.95 Q190.97 1113.21 195.79 1113.43" fill="none" stroke="#2a2626" stroke-width="1.10" stroke-linecap="round"/>
<path d="M192.82 1113.43 L192.92 1118.87 Q193.23 1120.39 194.36 1119.85" fill="none" stroke="#2a2626" stroke-width="1.21" stroke-linecap="round"/>
<text transform="translate(201.50 1123.00) scale(1.0800 1)" font-family='"Liberation Sans", sans-serif' font-size="17.00" fill="#1b1717" stroke="#1b1717" stroke-width="0.12">= 0.13, I</text>
<text transform="translate(268.97 1114.50) scale(1.1000 1)" font-family='"Liberation Sans", sans-serif' font-size="9.50" fill="#1b1717" stroke="#1b1717" stroke-width="0.12">2</text>
<text transform="translate(279.10 1123.00) scale(1.0800 1)" font-family='"Liberation Sans", sans-serif' font-size="17.00" fill="#1b1717" stroke="#1b1717" stroke-width="0.12">= 64.11%, H</text>
<text transform="translate(382.97 1114.50) scale(1.1000 1)" font-family='"Liberation Sans", sans-serif' font-size="9.50" fill="#1b1717" stroke="#1b1717" stroke-width="0.12">2</text>
<text transform="translate(393.61 1123.00) scale(1.0800 1)" font-family='"Liberation Sans", sans-serif' font-size="17.00" fill="#1b1717" stroke="#1b1717" stroke-width="0.12">= 2.79</text>
<text transform="translate(57.29 1152.10) scale(1.0800 1)" font-family='"Liberation Sans", sans-serif' font-size="17.00" fill="#1b1717" stroke="#1b1717" stroke-width="0.12">Test of</text>
<ellipse cx="127.45" cy="1145.60" rx="2.45" ry="4.50" fill="none" stroke="#2a2626" stroke-width="1.10"/>
<path d="M125.00 1145.60L129.90 1145.60" fill="none" stroke="#2a2626" stroke-width="0.88" stroke-linecap="round"/>
<path d="M128.05 1150.10L127.75 1155.30" fill="none" stroke="#2a2626" stroke-width="1.21" stroke-linecap="round"/>
<text transform="translate(135.50 1152.10) scale(1.0800 1)" font-family='"Liberation Sans", sans-serif' font-size="17.00" fill="#1b1717" stroke="#1b1717" stroke-width="0.12">=</text>
<ellipse cx="160.75" cy="1145.60" rx="2.85" ry="4.50" fill="none" stroke="#2a2626" stroke-width="1.10"/>
<path d="M157.90 1145.60L163.60 1145.60" fill="none" stroke="#2a2626" stroke-width="0.88" stroke-linecap="round"/>
<path d="M161.35 1150.10L161.05 1157.20" fill="none" stroke="#2a2626" stroke-width="1.21" stroke-linecap="round"/>
<text transform="translate(162.90 1152.10) scale(1.0932 1)" font-family='"Liberation Sans", sans-serif' font-size="17.00" fill="#1b1717" stroke="#1b1717" stroke-width="0.12">: Q(10) = 27.86, p = 0.00</text>
<text transform="translate(57.29 1181.10) scale(1.0800 1)" font-family='"Liberation Sans", sans-serif' font-size="17.00" fill="#1b1717" stroke="#1b1717" stroke-width="0.12">Test of</text>
<ellipse cx="127.45" cy="1176.25" rx="2.45" ry="4.75" fill="none" stroke="#2a2626" stroke-width="1.10"/>
<path d="M125.00 1176.25L129.90 1176.25" fill="none" stroke="#2a2626" stroke-width="0.88" stroke-linecap="round"/>
<text transform="translate(133.10 1181.10) scale(1.0866 1)" font-family='"Liberation Sans", sans-serif' font-size="17.00" fill="#1b1717" stroke="#1b1717" stroke-width="0.12">= 0: z = 2.05, p = 0.04</text>
<line x1="511.51" y1="1192.80" x2="752.15" y2="1192.80" stroke="#3c3c3c" stroke-width="1.40"/>
<line x1="520.55" y1="1192.80" x2="520.55" y2="1198.00" stroke="#3c3c3c" stroke-width="1.40"/>
<text transform="translate(512.89 1214.80) scale(1.0500 1)" font-family='"Liberation Sans", sans-serif' font-size="16.50" fill="#1b1717" stroke="#1b1717" stroke-width="0.12">-1</text>
<line x1="590.10" y1="1192.80" x2="590.10" y2="1198.00" stroke="#3c3c3c" stroke-width="1.40"/>
<text transform="translate(585.28 1214.80) scale(1.0500 1)" font-family='"Liberation Sans", sans-serif' font-size="16.50" fill="#1b1717" stroke="#1b1717" stroke-width="0.12">0</text>
<line x1="659.65" y1="1192.80" x2="659.65" y2="1198.00" stroke="#3c3c3c" stroke-width="1.40"/>
<text transform="translate(654.60 1214.80) scale(1.0500 1)" font-family='"Liberation Sans", sans-serif' font-size="16.50" fill="#1b1717" stroke="#1b1717" stroke-width="0.12">1</text>
<line x1="729.20" y1="1192.80" x2="729.20" y2="1198.00" stroke="#3c3c3c" stroke-width="1.40"/>
<text transform="translate(724.38 1214.80) scale(1.0500 1)" font-family='"Liberation Sans", sans-serif' font-size="16.50" fill="#1b1717" stroke="#1b1717" stroke-width="0.12">2</text>
<text transform="translate(45.78 1250.60) scale(1.0900 1)" font-family='"Liberation Sans", sans-serif' font-size="17.00" fill="#1b1717" stroke="#1b1717" stroke-width="0.12">Random-effects DerSimonian–Laird model</text>
<text transform="translate(575.65 1250.50) scale(1.0930 1)" font-family='"Liberation Sans", sans-serif' font-size="24.00" fill="#1b1717" stroke="#1b1717" stroke-width="0.12">Number of positive lymph nodes cleared</text>
</svg></body></html>
